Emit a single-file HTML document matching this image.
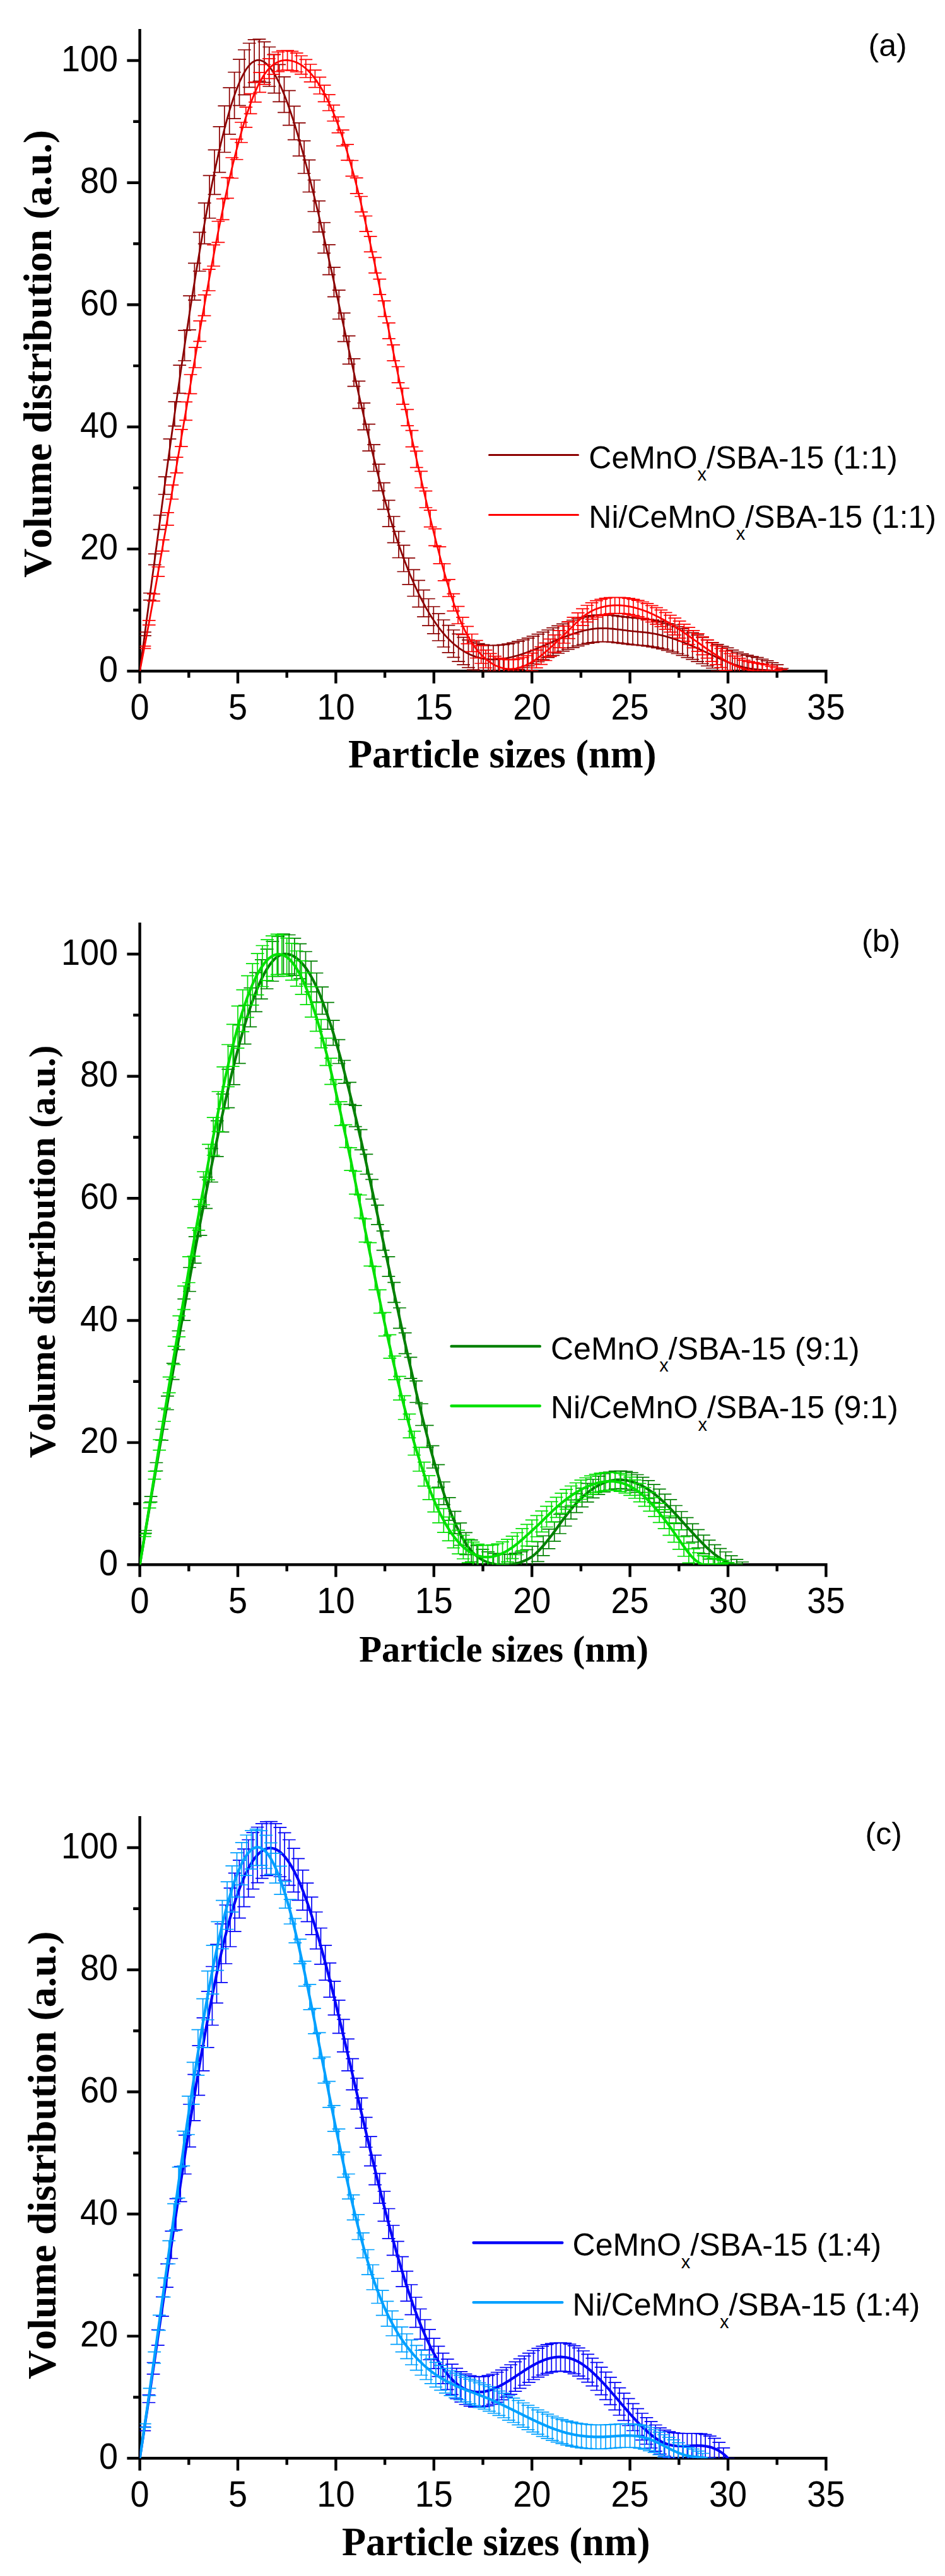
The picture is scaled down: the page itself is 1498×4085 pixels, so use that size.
<!DOCTYPE html>
<html><head><meta charset="utf-8"><title>Particle size distributions</title>
<style>html,body{margin:0;padding:0;background:#fff}svg{display:block}text{fill:#000}.tk{font-family:"Liberation Sans",Arial,sans-serif;font-size:54px}.lg{font-family:"Liberation Sans",Arial,sans-serif;font-size:50px}.ti{font-family:"Liberation Serif","Times New Roman",serif;font-weight:bold;font-kerning:none}</style></head><body>
<svg width="1498" height="4085" viewBox="0 0 1498 4085">
<rect width="1498" height="4085" fill="#fff"/>
<g>
<path d="M221.6 45.9 V1066.5 M219.4 1064.3 H1311.6 M221.6 1064.3 h-20.2 M221.6 967.5 h-10.5 M221.6 870.6 h-20.2 M221.6 773.8 h-10.5 M221.6 677 h-20.2 M221.6 580.1 h-10.5 M221.6 483.3 h-20.2 M221.6 386.5 h-10.5 M221.6 289.7 h-20.2 M221.6 192.8 h-10.5 M221.6 96 h-20.2 M221.6 1064.3 v19.5 M299.3 1064.3 v10.5 M377 1064.3 v19.5 M454.7 1064.3 v10.5 M532.4 1064.3 v19.5 M610.1 1064.3 v10.5 M687.8 1064.3 v19.5 M765.5 1064.3 v10.5 M843.2 1064.3 v19.5 M920.9 1064.3 v10.5 M998.6 1064.3 v19.5 M1076.3 1064.3 v10.5 M1154 1064.3 v19.5 M1231.7 1064.3 v10.5 M1309.4 1064.3 v19.5" fill="none" stroke="#000" stroke-width="4.4"/>
<clipPath id="cp0"><rect x="221.6" y="37.9" width="1270" height="1026.4"/></clipPath>
<g clip-path="url(#cp0)" fill="none">
<path d="M229.5 1002.4V1008.2M219.1 1002.4h20.8M219.1 1008.2h20.8M237.4 940.5V951.7M227 940.5h20.8M227 951.7h20.8M245.3 878.4V895.7M234.9 878.4h20.8M234.9 895.7h20.8M253.2 817V839.6M242.8 817h20.8M242.8 839.6h20.8M261.1 756.1V784M250.7 756.1h20.8M250.7 784h20.8M269 696.1V729.3M258.6 696.1h20.8M258.6 729.3h20.8M276.9 637.1V675.7M266.5 637.1h20.8M266.5 675.7h20.8M284.7 579.1V623.7M274.3 579.1h20.8M274.3 623.7h20.8M292.6 523.8V572M282.2 523.8h20.8M282.2 572h20.8M300.5 469.2V523.2M290.1 469.2h20.8M290.1 523.2h20.8M308.4 417.3V475.8M298 417.3h20.8M298 475.8h20.8M316.3 368.3V430M305.9 368.3h20.8M305.9 430h20.8M324.2 321.9V386.6M313.8 321.9h20.8M313.8 386.6h20.8M332.1 278.3V346M321.7 278.3h20.8M321.7 346h20.8M340 237.6V308.4M329.6 237.6h20.8M329.6 308.4h20.8M347.9 200.9V273.3M337.5 200.9h20.8M337.5 273.3h20.8M355.8 167.9V241.5M345.4 167.9h20.8M345.4 241.5h20.8M363.7 139.2V212.8M353.3 139.2h20.8M353.3 212.8h20.8M371.6 114.5V188.1M361.2 114.5h20.8M361.2 188.1h20.8M379.5 94.2V167.3M369.1 94.2h20.8M369.1 167.3h20.8M387.4 79V150.4M377 79h20.8M377 150.4h20.8M395.2 68.5V138.3M384.8 68.5h20.8M384.8 138.3h20.8M403.1 62.8V131M392.7 62.8h20.8M392.7 131h20.8M411 62.1V128.6M400.6 62.1h20.8M400.6 128.6h20.8M418.9 66.3V130.6M408.5 66.3h20.8M408.5 130.6h20.8M426.8 74.5V137M416.4 74.5h20.8M416.4 137h20.8M434.7 86.4V147.6M424.3 86.4h20.8M424.3 147.6h20.8M442.6 102.4V161.4M432.2 102.4h20.8M432.2 161.4h20.8M450.5 121.8V178.3M440.1 121.8h20.8M440.1 178.3h20.8M458.4 143.7V198.6M448 143.7h20.8M448 198.6h20.8M466.3 168.3V221.7M455.9 168.3h20.8M455.9 221.7h20.8M474.2 194.8V247.3M463.8 194.8h20.8M463.8 247.3h20.8M482.1 223.3V275M471.7 223.3h20.8M471.7 275h20.8M490 253.6V304.5M479.6 253.6h20.8M479.6 304.5h20.8M497.9 285.5V335.5M487.5 285.5h20.8M487.5 335.5h20.8M505.7 318.7V367.9M495.3 318.7h20.8M495.3 367.9h20.8M513.6 353V401.3M503.2 353h20.8M503.2 401.3h20.8M521.5 388.1V435.7M511.1 388.1h20.8M511.1 435.7h20.8M529.4 423.9V470.6M519 423.9h20.8M519 470.6h20.8M537.3 460.1V506M526.9 460.1h20.8M526.9 506h20.8M545.2 496.4V541.7M534.8 496.4h20.8M534.8 541.7h20.8M553.1 532.7V577.3M542.7 532.7h20.8M542.7 577.3h20.8M561 568.8V612.7M550.6 568.8h20.8M550.6 612.7h20.8M568.9 604.3V647.6M558.5 604.3h20.8M558.5 647.6h20.8M576.8 639.1V681.7M566.4 639.1h20.8M566.4 681.7h20.8M584.7 672.7V715.2M574.3 672.7h20.8M574.3 715.2h20.8M592.6 705.2V747.5M582.2 705.2h20.8M582.2 747.5h20.8M600.5 736.2V778.4M590.1 736.2h20.8M590.1 778.4h20.8M608.4 765.7V807.7M598 765.7h20.8M598 807.7h20.8M616.2 793.3V835.1M605.8 793.3h20.8M605.8 835.1h20.8M624.1 819V860.6M613.7 819h20.8M613.7 860.6h20.8M632 842.7V884.5M621.6 842.7h20.8M621.6 884.5h20.8M639.9 864.6V906.5M629.5 864.6h20.8M629.5 906.5h20.8M647.8 884.8V926.8M637.4 884.8h20.8M637.4 926.8h20.8M655.7 903.3V945.5M645.3 903.3h20.8M645.3 945.5h20.8M663.6 920.3V962.6M653.2 920.3h20.8M653.2 962.6h20.8M671.5 935.6V978.1M661.1 935.6h20.8M661.1 978.1h20.8M679.4 949.5V992.1M669 949.5h20.8M669 992.1h20.8M687.3 962V1004.8M676.9 962h20.8M676.9 1004.8h20.8M695.2 973.2V1016M684.8 973.2h20.8M684.8 1016h20.8M703.1 983V1026M692.7 983h20.8M692.7 1026h20.8M711 991.6V1034.8M700.6 991.6h20.8M700.6 1034.8h20.8M718.9 999V1042.3M708.5 999h20.8M708.5 1042.3h20.8M726.7 1005.3V1048.8M716.3 1005.3h20.8M716.3 1048.8h20.8M734.6 1010.6V1054.2M724.2 1010.6h20.8M724.2 1054.2h20.8M742.5 1014.9V1058.6M732.1 1014.9h20.8M732.1 1058.6h20.8M750.4 1018.2V1062.1M740 1018.2h20.8M740 1062.1h20.8M758.3 1020.7V1064.7M747.9 1020.7h20.8M747.9 1064.7h20.8M766.2 1022.4V1066.5M755.8 1022.4h20.8M755.8 1066.5h20.8M774.1 1023.3V1067.6M763.7 1023.3h20.8M763.7 1067.6h20.8M782 1023.6V1068M771.6 1023.6h20.8M771.6 1068h20.8M789.9 1023.2V1067.7M779.5 1023.2h20.8M779.5 1067.7h20.8M797.8 1022.4V1066.8M787.4 1022.4h20.8M787.4 1066.8h20.8M805.7 1021.1V1065.4M795.3 1021.1h20.8M795.3 1065.4h20.8M813.6 1019.3V1063.6M803.2 1019.3h20.8M803.2 1063.6h20.8M821.5 1017.1V1061.3M811.1 1017.1h20.8M811.1 1061.3h20.8M829.4 1014.6V1058.7M819 1014.6h20.8M819 1058.7h20.8M837.2 1011.8V1055.9M826.8 1011.8h20.8M826.8 1055.9h20.8M845.1 1008.8V1052.8M834.7 1008.8h20.8M834.7 1052.8h20.8M853 1005.6V1049.5M842.6 1005.6h20.8M842.6 1049.5h20.8M860.9 1002.4V1046.2M850.5 1002.4h20.8M850.5 1046.2h20.8M868.8 999V1042.7M858.4 999h20.8M858.4 1042.7h20.8M876.7 995.7V1039.3M866.3 995.7h20.8M866.3 1039.3h20.8M884.6 992.4V1036M874.2 992.4h20.8M874.2 1036h20.8M892.5 989.3V1032.7M882.1 989.3h20.8M882.1 1032.7h20.8M900.4 986.3V1029.7M890 986.3h20.8M890 1029.7h20.8M908.3 983.5V1026.8M897.9 983.5h20.8M897.9 1026.8h20.8M916.2 981V1024.3M905.8 981h20.8M905.8 1024.3h20.8M924.1 978.9V1022M913.7 978.9h20.8M913.7 1022h20.8M932 977.2V1020.2M921.6 977.2h20.8M921.6 1020.2h20.8M939.9 975.9V1018.9M929.5 975.9h20.8M929.5 1018.9h20.8M947.7 975.1V1018M937.3 975.1h20.8M937.3 1018h20.8M955.6 974.9V1017.7M945.2 974.9h20.8M945.2 1017.7h20.8M963.5 975.2V1017.9M953.1 975.2h20.8M953.1 1017.9h20.8M971.4 975.8V1018.5M961 975.8h20.8M961 1018.5h20.8M979.3 976.8V1019.4M968.9 976.8h20.8M968.9 1019.4h20.8M987.2 977.8V1020.4M976.8 977.8h20.8M976.8 1020.4h20.8M995.1 978.8V1021.4M984.7 978.8h20.8M984.7 1021.4h20.8M1003 979.7V1022.3M992.6 979.7h20.8M992.6 1022.3h20.8M1010.9 980.4V1023M1000.5 980.4h20.8M1000.5 1023h20.8M1018.8 981.1V1023.7M1008.4 981.1h20.8M1008.4 1023.7h20.8M1026.7 982V1024.6M1016.3 982h20.8M1016.3 1024.6h20.8M1034.6 983.2V1025.8M1024.2 983.2h20.8M1024.2 1025.8h20.8M1042.5 984.8V1027.4M1032.1 984.8h20.8M1032.1 1027.4h20.8M1050.4 986.6V1029.2M1040 986.6h20.8M1040 1029.2h20.8M1058.2 988.8V1031.4M1047.8 988.8h20.8M1047.8 1031.4h20.8M1066.1 991.2V1033.8M1055.7 991.2h20.8M1055.7 1033.8h20.8M1074 993.9V1036.5M1063.6 993.9h20.8M1063.6 1036.5h20.8M1081.9 996.8V1039.4M1071.5 996.8h20.8M1071.5 1039.4h20.8M1089.8 1000V1042.6M1079.4 1000h20.8M1079.4 1042.6h20.8M1097.7 1003.4V1045.7M1087.3 1003.4h20.8M1087.3 1045.7h20.8M1105.6 1007.2V1049.1M1095.2 1007.2h20.8M1095.2 1049.1h20.8M1113.5 1011V1052.5M1103.1 1011h20.8M1103.1 1052.5h20.8M1121.4 1014.9V1056M1111 1014.9h20.8M1111 1056h20.8M1129.3 1018.8V1059.5M1118.9 1018.8h20.8M1118.9 1059.5h20.8M1137.2 1021.9V1063.8M1126.8 1021.9h20.8M1126.8 1063.8h20.8M1145.1 1024.8V1067.9M1134.7 1024.8h20.8M1134.7 1067.9h20.8M1153 1027.4V1071.8M1142.6 1027.4h20.8M1142.6 1071.8h20.8M1160.9 1030.9V1074.4M1150.5 1030.9h20.8M1150.5 1074.4h20.8M1168.7 1034.1V1076.5M1158.3 1034.1h20.8M1158.3 1076.5h20.8M1176.6 1036.9V1078.2M1166.2 1036.9h20.8M1166.2 1078.2h20.8M1184.5 1039.2V1079.3M1174.1 1039.2h20.8M1174.1 1079.3h20.8M1192.4 1041.1V1080.1M1182 1041.1h20.8M1182 1080.1h20.8M1200.3 1042.7V1080.5M1189.9 1042.7h20.8M1189.9 1080.5h20.8M1208.2 1045.3V1079.3M1197.8 1045.3h20.8M1197.8 1079.3h20.8M1216.1 1047.8V1077.8M1205.7 1047.8h20.8M1205.7 1077.8h20.8M1224 1050.9V1075.6M1213.6 1050.9h20.8M1213.6 1075.6h20.8M1231.9 1054.2V1073.3M1221.5 1054.2h20.8M1221.5 1073.3h20.8M1239.8 1060V1068.6M1229.4 1060h20.8M1229.4 1068.6h20.8" stroke="#8b0000" stroke-width="1.7"/>
<path d="M221.6 1064.3 L224.2 1045.3 L226.7 1026.2 L229.3 1007.1 L231.8 987.9 L234.4 968.8 L236.9 949.7 L239.5 930.6 L242 911.4 L244.6 892.4 L247.1 873.3 L249.7 854.3 L252.2 835.3 L254.8 816.4 L257.3 797.6 L259.9 778.8 L262.4 760.1 L265 741.5 L267.5 723 L270.1 704.6 L272.6 686.3 L275.2 668.2 L277.7 650.1 L280.3 632.2 L282.8 614.5 L285.4 596.9 L287.9 579.5 L290.5 562.2 L293.1 545.1 L295.6 528.3 L298.2 511.6 L300.7 495.1 L303.3 478.8 L305.8 462.7 L308.4 446.9 L310.9 431.3 L313.5 416 L316 400.9 L318.6 386.1 L321.1 371.5 L323.7 357.2 L326.2 343.2 L328.8 329.5 L331.3 316.1 L333.9 303 L336.4 290.3 L339 277.8 L341.5 265.7 L344.1 254 L346.6 242.6 L349.2 231.5 L351.7 220.8 L354.3 210.5 L356.8 200.6 L359.4 191.1 L362 181.9 L364.5 173.2 L367.1 164.9 L369.6 157 L372.2 149.6 L374.7 142.6 L377.3 136 L379.8 130 L382.4 124.3 L384.9 119.2 L387.5 114.5 L390 110.3 L392.6 106.7 L395.1 103.5 L397.7 100.8 L400.2 98.7 L402.8 97.1 L405.3 96 L407.9 95.4 L410.4 95.3 L413 95.7 L415.5 96.6 L418.1 97.9 L420.6 99.7 L423.2 101.9 L425.7 104.5 L428.3 107.6 L430.9 111 L433.4 114.9 L436 119.1 L438.5 123.7 L441.1 128.7 L443.6 134 L446.2 139.7 L448.7 145.7 L451.3 152 L453.8 158.6 L456.4 165.5 L458.9 172.7 L461.5 180.2 L464 187.9 L466.6 195.9 L469.1 204.1 L471.7 212.6 L474.2 221.3 L476.8 230.2 L479.3 239.2 L481.9 248.5 L484.4 258 L487 267.6 L489.5 277.5 L492.1 287.4 L494.6 297.6 L497.2 307.9 L499.7 318.3 L502.3 328.9 L504.9 339.5 L507.4 350.3 L510 361.2 L512.5 372.3 L515.1 383.4 L517.6 394.6 L520.2 405.8 L522.7 417.2 L525.3 428.6 L527.8 440.1 L530.4 451.6 L532.9 463.1 L535.5 474.7 L538 486.3 L540.6 497.9 L543.1 509.6 L545.7 521.2 L548.2 532.9 L550.8 544.5 L553.3 556.1 L555.9 567.7 L558.4 579.2 L561 590.7 L563.5 602.2 L566.1 613.5 L568.6 624.9 L571.2 636.1 L573.8 647.3 L576.3 658.4 L578.9 669.3 L581.4 680.2 L584 691 L586.5 701.6 L589.1 712.1 L591.6 722.5 L594.2 732.7 L596.7 742.8 L599.3 752.8 L601.8 762.5 L604.4 772.1 L606.9 781.5 L609.5 790.7 L612 799.7 L614.6 808.6 L617.1 817.2 L619.7 825.6 L622.2 833.8 L624.8 841.8 L627.3 849.7 L629.9 857.3 L632.4 864.8 L635 872 L637.5 879.1 L640.1 886 L642.7 892.8 L645.2 899.3 L647.8 905.7 L650.3 911.9 L652.9 917.9 L655.4 923.7 L658 929.4 L660.5 935 L663.1 940.3 L665.6 945.5 L668.2 950.5 L670.7 955.4 L673.3 960.1 L675.8 964.7 L678.4 969.1 L680.9 973.4 L683.5 977.5 L686 981.5 L688.6 985.3 L691.1 989 L693.7 992.6 L696.2 996 L698.8 999.3 L701.3 1002.5 L703.9 1005.5 L706.4 1008.4 L709 1011.1 L711.6 1013.8 L714.1 1016.3 L716.7 1018.7 L719.2 1021 L721.8 1023.2 L724.3 1025.2 L726.9 1027.1 L729.4 1029 L732 1030.7 L734.5 1032.3 L737.1 1033.8 L739.6 1035.3 L742.2 1036.6 L744.7 1037.8 L747.3 1038.9 L749.8 1039.9 L752.4 1040.9 L754.9 1041.7 L757.5 1042.5 L760 1043.2 L762.6 1043.8 L765.1 1044.3 L767.7 1044.7 L770.2 1045.1 L772.8 1045.3 L775.3 1045.6 L777.9 1045.7 L780.5 1045.8 L783 1045.8 L785.6 1045.7 L788.1 1045.6 L790.7 1045.4 L793.2 1045.2 L795.8 1044.9 L798.3 1044.5 L800.9 1044.1 L803.4 1043.7 L806 1043.2 L808.5 1042.6 L811.1 1042 L813.6 1041.4 L816.2 1040.7 L818.7 1040 L821.3 1039.3 L823.8 1038.5 L826.4 1037.7 L828.9 1036.8 L831.5 1035.9 L834 1035 L836.6 1034.1 L839.1 1033.1 L841.7 1032.2 L844.2 1031.2 L846.8 1030.1 L849.4 1029.1 L851.9 1028.1 L854.5 1027 L857 1025.9 L859.6 1024.8 L862.1 1023.8 L864.7 1022.7 L867.2 1021.6 L869.8 1020.5 L872.3 1019.4 L874.9 1018.3 L877.4 1017.2 L880 1016.1 L882.5 1015.1 L885.1 1014 L887.6 1013 L890.2 1011.9 L892.7 1010.9 L895.3 1009.9 L897.8 1008.9 L900.4 1008 L902.9 1007 L905.5 1006.1 L908 1005.2 L910.6 1004.4 L913.1 1003.6 L915.7 1002.8 L918.3 1002 L920.8 1001.3 L923.4 1000.6 L925.9 1000 L928.5 999.4 L931 998.9 L933.6 998.4 L936.1 997.9 L938.7 997.5 L941.2 997.2 L943.8 996.9 L946.3 996.7 L948.9 996.5 L951.4 996.4 L954 996.3 L956.5 996.3 L959.1 996.3 L961.6 996.4 L964.2 996.6 L966.7 996.8 L969.3 997 L971.8 997.2 L974.4 997.5 L976.9 997.8 L979.5 998.1 L982 998.4 L984.6 998.7 L987.1 999.1 L989.7 999.4 L992.3 999.7 L994.8 1000.1 L997.4 1000.4 L999.9 1000.7 L1002.5 1000.9 L1005 1001.2 L1007.6 1001.4 L1010.1 1001.6 L1012.7 1001.9 L1015.2 1002.1 L1017.8 1002.3 L1020.3 1002.6 L1022.9 1002.9 L1025.4 1003.2 L1028 1003.5 L1030.5 1003.9 L1033.1 1004.3 L1035.6 1004.7 L1038.2 1005.2 L1040.7 1005.7 L1043.3 1006.2 L1045.8 1006.8 L1048.4 1007.4 L1050.9 1008.1 L1053.5 1008.7 L1056 1009.4 L1058.6 1010.2 L1061.2 1010.9 L1063.7 1011.7 L1066.3 1012.5 L1068.8 1013.4 L1071.4 1014.3 L1073.9 1015.2 L1076.5 1016.1 L1079 1017 L1081.6 1018 L1084.1 1019 L1086.7 1020 L1089.2 1021 L1091.8 1022.1 L1094.3 1023.1 L1096.9 1024.2 L1099.4 1025.3 L1102 1026.5 L1104.5 1027.6 L1107.1 1028.8 L1109.6 1030 L1112.2 1031.1 L1114.7 1032.3 L1117.3 1033.5 L1119.8 1034.7 L1122.4 1035.9 L1124.9 1037.1 L1127.5 1038.4 L1130.1 1039.5 L1132.6 1040.7 L1135.2 1041.9 L1137.7 1043.1 L1140.3 1044.2 L1142.8 1045.3 L1145.4 1046.5 L1147.9 1047.5 L1150.5 1048.6 L1153 1049.6 L1155.6 1050.7 L1158.1 1051.6 L1160.7 1052.6 L1163.2 1053.5 L1165.8 1054.3 L1168.3 1055.2 L1170.9 1055.9 L1173.4 1056.7 L1176 1057.4 L1178.5 1058 L1181.1 1058.6 L1183.6 1059.1 L1186.2 1059.6 L1188.7 1060.1 L1191.3 1060.5 L1193.8 1060.8 L1196.4 1061.1 L1199 1061.4 L1201.5 1061.7 L1204.1 1061.9 L1206.6 1062.2 L1209.2 1062.4 L1211.7 1062.5 L1214.3 1062.7 L1216.8 1062.9 L1219.4 1063 L1221.9 1063.2 L1224.5 1063.3 L1227 1063.4 L1229.6 1063.6 L1232.1 1063.8 L1234.7 1063.9 L1237.2 1064.1 L1239.8 1064.3" stroke="#8b0000" stroke-width="2.8" stroke-linejoin="round"/>
<path d="M228.9 1024.7V1028.3M218.5 1024.7h20.8M218.5 1028.3h20.8M236.2 983.8V991.2M225.8 983.8h20.8M225.8 991.2h20.8M243.5 941.8V953.1M233.1 941.8h20.8M233.1 953.1h20.8M250.8 899V914.2M240.4 899h20.8M240.4 914.2h20.8M258.2 856.2V873.8M247.8 856.2h20.8M247.8 873.8h20.8M265.5 812.9V832.9M255.1 812.9h20.8M255.1 832.9h20.8M272.8 769.2V791.5M262.4 769.2h20.8M262.4 791.5h20.8M280.1 725.2V749.9M269.7 725.2h20.8M269.7 749.9h20.8M287.4 681.1V708.2M277 681.1h20.8M277 708.2h20.8M294.7 637.4V666.3M284.3 637.4h20.8M284.3 666.3h20.8M302 594V624.4M291.6 594h20.8M291.6 624.4h20.8M309.3 550.9V583M298.9 550.9h20.8M298.9 583h20.8M316.7 508.9V541.4M306.3 508.9h20.8M306.3 541.4h20.8M324 467.7V500.6M313.6 467.7h20.8M313.6 500.6h20.8M331.3 427.1V461M320.9 427.1h20.8M320.9 461h20.8M338.6 388.4V422M328.2 388.4h20.8M328.2 422h20.8M345.9 351V384.4M335.5 351h20.8M335.5 384.4h20.8M353.2 315.4V348.4M342.8 315.4h20.8M342.8 348.4h20.8M360.5 281.6V314.4M350.1 281.6h20.8M350.1 314.4h20.8M367.8 250V282.5M357.4 250h20.8M357.4 282.5h20.8M375.1 220.7V253M364.7 220.7h20.8M364.7 253h20.8M382.5 194V226M372.1 194h20.8M372.1 226h20.8M389.8 169.9V201.8M379.4 169.9h20.8M379.4 201.8h20.8M397.1 148.6V180.4M386.7 148.6h20.8M386.7 180.4h20.8M404.4 130.2V161.9M394 130.2h20.8M394 161.9h20.8M411.7 114.8V146.4M401.3 114.8h20.8M401.3 146.4h20.8M419 102.5V133.9M408.6 102.5h20.8M408.6 133.9h20.8M426.3 93.2V124.6M415.9 93.2h20.8M415.9 124.6h20.8M433.6 86.6V117.9M423.2 86.6h20.8M423.2 117.9h20.8M440.9 82.5V113.6M430.5 82.5h20.8M430.5 113.6h20.8M448.3 80.4V111.5M437.9 80.4h20.8M437.9 111.5h20.8M455.6 80V111M445.2 80h20.8M445.2 111h20.8M462.9 81.4V111.8M452.5 81.4h20.8M452.5 111.8h20.8M470.2 84.2V114M459.8 84.2h20.8M459.8 114h20.8M477.5 88.5V117.7M467.1 88.5h20.8M467.1 117.7h20.8M484.8 94.4V123M474.4 94.4h20.8M474.4 123h20.8M492.1 102V129.9M481.7 102h20.8M481.7 129.9h20.8M499.4 111.2V138.6M489 111.2h20.8M489 138.6h20.8M506.8 122.3V149M496.4 122.3h20.8M496.4 149h20.8M514.1 135.2V161.3M503.7 135.2h20.8M503.7 161.3h20.8M521.4 150.1V175.5M511 150.1h20.8M511 175.5h20.8M528.7 166.7V192M518.3 166.7h20.8M518.3 192h20.8M536 185.4V210.6M525.6 185.4h20.8M525.6 210.6h20.8M543.3 206.2V231.3M532.9 206.2h20.8M532.9 231.3h20.8M550.6 229.2V254.2M540.2 229.2h20.8M540.2 254.2h20.8M557.9 254.5V279.4M547.5 254.5h20.8M547.5 279.4h20.8M565.2 282.1V306.9M554.8 282.1h20.8M554.8 306.9h20.8M572.6 311.5V336.2M562.2 311.5h20.8M562.2 336.2h20.8M579.9 342.5V367.1M569.5 342.5h20.8M569.5 367.1h20.8M587.2 374.9V399.4M576.8 374.9h20.8M576.8 399.4h20.8M594.5 408.4V432.8M584.1 408.4h20.8M584.1 432.8h20.8M601.8 442.6V467.2M591.4 442.6h20.8M591.4 467.2h20.8M609.1 477.2V502M598.7 477.2h20.8M598.7 502h20.8M616.4 512.1V537.1M606 512.1h20.8M606 537.1h20.8M623.7 546.9V572.1M613.3 546.9h20.8M613.3 572.1h20.8M631.1 581.5V606.9M620.7 581.5h20.8M620.7 606.9h20.8M638.4 615.7V641.2M628 615.7h20.8M628 641.2h20.8M645.7 649.4V675.2M635.3 649.4h20.8M635.3 675.2h20.8M653 682.6V708.6M642.6 682.6h20.8M642.6 708.6h20.8M660.3 715.3V741.4M649.9 715.3h20.8M649.9 741.4h20.8M667.6 747.3V773.5M657.2 747.3h20.8M657.2 773.5h20.8M674.9 778.6V805M664.5 778.6h20.8M664.5 805h20.8M682.2 809.1V835.6M671.8 809.1h20.8M671.8 835.6h20.8M689.5 838.7V865.4M679.1 838.7h20.8M679.1 865.4h20.8M696.9 867.1V893.9M686.5 867.1h20.8M686.5 893.9h20.8M704.2 894V920.9M693.8 894h20.8M693.8 920.9h20.8M711.5 918.9V946M701.1 918.9h20.8M701.1 946h20.8M718.8 941.6V968.8M708.4 941.6h20.8M708.4 968.8h20.8M726.1 961.6V989M715.7 961.6h20.8M715.7 989h20.8M733.4 978.8V1006.3M723 978.8h20.8M723 1006.3h20.8M740.7 993.3V1020.9M730.3 993.3h20.8M730.3 1020.9h20.8M748 1005.5V1033.3M737.6 1005.5h20.8M737.6 1033.3h20.8M755.3 1015.6V1043.5M744.9 1015.6h20.8M744.9 1043.5h20.8M762.7 1023.9V1052M752.3 1023.9h20.8M752.3 1052h20.8M770 1030.8V1059M759.6 1030.8h20.8M759.6 1059h20.8M777.3 1036.3V1064.7M766.9 1036.3h20.8M766.9 1064.7h20.8M784.6 1040.6V1069.1M774.2 1040.6h20.8M774.2 1069.1h20.8M791.9 1043.7V1072.4M781.5 1043.7h20.8M781.5 1072.4h20.8M799.2 1045.6V1074.4M788.8 1045.6h20.8M788.8 1074.4h20.8M806.5 1046.4V1075.3M796.1 1046.4h20.8M796.1 1075.3h20.8M813.8 1046.1V1075.1M803.4 1046.1h20.8M803.4 1075.1h20.8M821.2 1044.9V1073.7M810.8 1044.9h20.8M810.8 1073.7h20.8M828.5 1042.7V1071.4M818.1 1042.7h20.8M818.1 1071.4h20.8M835.8 1039.6V1068.1M825.4 1039.6h20.8M825.4 1068.1h20.8M843.1 1035.6V1063.9M832.7 1035.6h20.8M832.7 1063.9h20.8M850.4 1030.9V1059.1M840 1030.9h20.8M840 1059.1h20.8M857.7 1025.6V1053.6M847.3 1025.6h20.8M847.3 1053.6h20.8M865 1019.7V1047.5M854.6 1019.7h20.8M854.6 1047.5h20.8M872.3 1013.4V1041.1M861.9 1013.4h20.8M861.9 1041.1h20.8M879.6 1006.8V1034.3M869.2 1006.8h20.8M869.2 1034.3h20.8M887 999.9V1027.2M876.6 999.9h20.8M876.6 1027.2h20.8M894.3 992.9V1020M883.9 992.9h20.8M883.9 1020h20.8M901.6 985.8V1012.7M891.2 985.8h20.8M891.2 1012.7h20.8M908.9 978.8V1005.5M898.5 978.8h20.8M898.5 1005.5h20.8M916.2 971.9V998.5M905.8 971.9h20.8M905.8 998.5h20.8M923.5 965.4V991.8M913.1 965.4h20.8M913.1 991.8h20.8M930.8 960V986.3M920.4 960h20.8M920.4 986.3h20.8M938.1 955.8V981.9M927.7 955.8h20.8M927.7 981.9h20.8M945.5 952.7V978.6M935.1 952.7h20.8M935.1 978.6h20.8M952.8 950.3V976.1M942.4 950.3h20.8M942.4 976.1h20.8M960.1 948.7V974.3M949.7 948.7h20.8M949.7 974.3h20.8M967.4 947.7V973.1M957 947.7h20.8M957 973.1h20.8M974.7 947.3V972.5M964.3 947.3h20.8M964.3 972.5h20.8M982 947.3V972.6M971.6 947.3h20.8M971.6 972.6h20.8M989.3 947.8V973.2M978.9 947.8h20.8M978.9 973.2h20.8M996.6 948.8V974.3M986.2 948.8h20.8M986.2 974.3h20.8M1003.9 950.3V975.9M993.5 950.3h20.8M993.5 975.9h20.8M1011.3 952.2V977.9M1000.9 952.2h20.8M1000.9 977.9h20.8M1018.6 954.5V980.4M1008.2 954.5h20.8M1008.2 980.4h20.8M1025.9 957.2V983.2M1015.5 957.2h20.8M1015.5 983.2h20.8M1033.2 960.3V986.4M1022.8 960.3h20.8M1022.8 986.4h20.8M1040.5 963.7V989.9M1030.1 963.7h20.8M1030.1 989.9h20.8M1047.8 967.4V993.7M1037.4 967.4h20.8M1037.4 993.7h20.8M1055.1 971.4V997.9M1044.7 971.4h20.8M1044.7 997.9h20.8M1062.4 975.7V1002.3M1052 975.7h20.8M1052 1002.3h20.8M1069.7 980.2V1006.9M1059.3 980.2h20.8M1059.3 1006.9h20.8M1077.1 984.9V1011.8M1066.7 984.9h20.8M1066.7 1011.8h20.8M1084.4 989.8V1016.8M1074 989.8h20.8M1074 1016.8h20.8M1091.7 994.9V1022M1081.3 994.9h20.8M1081.3 1022h20.8M1099 999.8V1027.4M1088.6 999.8h20.8M1088.6 1027.4h20.8M1106.3 1004.8V1032.8M1095.9 1004.8h20.8M1095.9 1032.8h20.8M1113.6 1009.8V1038.3M1103.2 1009.8h20.8M1103.2 1038.3h20.8M1120.9 1014.7V1043.6M1110.5 1014.7h20.8M1110.5 1043.6h20.8M1128.2 1019.5V1048.8M1117.8 1019.5h20.8M1117.8 1048.8h20.8M1135.6 1024V1053.9M1125.2 1024h20.8M1125.2 1053.9h20.8M1142.9 1028.4V1058.7M1132.5 1028.4h20.8M1132.5 1058.7h20.8M1150.2 1032.4V1063.2M1139.8 1032.4h20.8M1139.8 1063.2h20.8M1157.5 1036.5V1067M1147.1 1036.5h20.8M1147.1 1067h20.8M1164.8 1040.4V1070M1154.4 1040.4h20.8M1154.4 1070h20.8M1172.1 1043.9V1072.6M1161.7 1043.9h20.8M1161.7 1072.6h20.8M1179.4 1046.8V1074.6M1169 1046.8h20.8M1169 1074.6h20.8M1186.7 1049.1V1076M1176.3 1049.1h20.8M1176.3 1076h20.8M1194 1050.7V1076.7M1183.6 1050.7h20.8M1183.6 1076.7h20.8M1201.4 1051.8V1076.7M1191 1051.8h20.8M1191 1076.7h20.8M1208.7 1053.2V1075.4M1198.3 1053.2h20.8M1198.3 1075.4h20.8M1216 1054.5V1074M1205.6 1054.5h20.8M1205.6 1074h20.8M1223.3 1056.6V1071.6M1212.9 1056.6h20.8M1212.9 1071.6h20.8M1230.6 1059V1069.1M1220.2 1059h20.8M1220.2 1069.1h20.8M1237.9 1061.9V1066.7M1227.5 1061.9h20.8M1227.5 1066.7h20.8" stroke="#ff0000" stroke-width="1.7"/>
<path d="M221.6 1064.3 L224.1 1051.3 L226.7 1038.1 L229.2 1024.7 L231.8 1011.3 L234.3 997.7 L236.9 983.9 L239.4 970.1 L242 956.1 L244.5 942 L247.1 927.8 L249.6 913.5 L252.2 899.2 L254.7 884.7 L257.3 870.2 L259.8 855.6 L262.4 840.9 L264.9 826.2 L267.4 811.4 L270 796.6 L272.5 781.8 L275.1 766.9 L277.6 752 L280.2 737 L282.7 722.1 L285.3 707.2 L287.8 692.2 L290.4 677.3 L292.9 662.3 L295.5 647.4 L298 632.6 L300.6 617.7 L303.1 602.9 L305.7 588.2 L308.2 573.5 L310.8 558.8 L313.3 544.2 L315.8 529.7 L318.4 515.3 L320.9 501 L323.5 486.8 L326 472.7 L328.6 458.7 L331.1 444.8 L333.7 431.1 L336.2 417.6 L338.8 404.2 L341.3 391 L343.9 378 L346.4 365.1 L349 352.5 L351.5 340.1 L354.1 327.9 L356.6 315.9 L359.1 304.2 L361.7 292.8 L364.2 281.6 L366.8 270.6 L369.3 260 L371.9 249.7 L374.4 239.6 L377 229.9 L379.5 220.5 L382.1 211.4 L384.6 202.6 L387.2 194.2 L389.7 186 L392.3 178.3 L394.8 170.9 L397.4 163.8 L399.9 157 L402.4 150.7 L405 144.7 L407.5 139 L410.1 133.7 L412.6 128.8 L415.2 124.3 L417.7 120.1 L420.3 116.4 L422.8 113 L425.4 109.9 L427.9 107.2 L430.5 104.8 L433 102.7 L435.6 100.9 L438.1 99.4 L440.7 98.2 L443.2 97.2 L445.7 96.4 L448.3 95.9 L450.8 95.6 L453.4 95.5 L455.9 95.5 L458.5 95.8 L461 96.2 L463.6 96.8 L466.1 97.5 L468.7 98.5 L471.2 99.6 L473.8 100.9 L476.3 102.4 L478.9 104 L481.4 105.9 L484 108 L486.5 110.2 L489.1 112.7 L491.6 115.4 L494.1 118.2 L496.7 121.3 L499.2 124.6 L501.8 128.1 L504.3 131.9 L506.9 135.9 L509.4 140 L512 144.5 L514.5 149.1 L517.1 154 L519.6 159.1 L522.2 164.5 L524.7 170.1 L527.3 175.9 L529.8 182.1 L532.4 188.4 L534.9 195 L537.4 201.9 L540 209 L542.5 216.4 L545.1 224.1 L547.6 232.1 L550.2 240.3 L552.7 248.8 L555.3 257.5 L557.8 266.6 L560.4 275.9 L562.9 285.5 L565.5 295.3 L568 305.4 L570.6 315.6 L573.1 326.1 L575.7 336.8 L578.2 347.6 L580.7 358.7 L583.3 369.8 L585.8 381.2 L588.4 392.7 L590.9 404.3 L593.5 416 L596 427.8 L598.6 439.7 L601.1 451.7 L603.7 463.7 L606.2 475.8 L608.8 487.9 L611.3 500.1 L613.9 512.3 L616.4 524.5 L619 536.7 L621.5 548.9 L624.1 561 L626.6 573.1 L629.1 585.2 L631.7 597.2 L634.2 609.2 L636.8 621.1 L639.3 633 L641.9 644.8 L644.4 656.6 L647 668.3 L649.5 679.9 L652.1 691.5 L654.6 703 L657.2 714.4 L659.7 725.7 L662.3 737 L664.8 748.2 L667.4 759.3 L669.9 770.3 L672.4 781.3 L675 792.1 L677.5 802.8 L680.1 813.5 L682.6 824 L685.2 834.5 L687.7 844.8 L690.3 855 L692.8 865 L695.4 874.9 L697.9 884.6 L700.5 894 L703 903.3 L705.6 912.4 L708.1 921.2 L710.7 929.7 L713.2 938 L715.7 946 L718.3 953.7 L720.8 961.1 L723.4 968.2 L725.9 974.8 L728.5 981.2 L731 987.2 L733.6 992.9 L736.1 998.2 L738.7 1003.3 L741.2 1008 L743.8 1012.5 L746.3 1016.7 L748.9 1020.6 L751.4 1024.3 L754 1027.8 L756.5 1031 L759.1 1034 L761.6 1036.9 L764.1 1039.5 L766.7 1042 L769.2 1044.3 L771.8 1046.4 L774.3 1048.4 L776.9 1050.3 L779.4 1051.9 L782 1053.5 L784.5 1054.9 L787.1 1056.1 L789.6 1057.2 L792.2 1058.1 L794.7 1058.9 L797.3 1059.6 L799.8 1060.1 L802.4 1060.5 L804.9 1060.8 L807.4 1060.9 L810 1060.9 L812.5 1060.7 L815.1 1060.5 L817.6 1060.1 L820.2 1059.6 L822.7 1058.9 L825.3 1058.1 L827.8 1057.3 L830.4 1056.3 L832.9 1055.2 L835.5 1054 L838 1052.7 L840.6 1051.3 L843.1 1049.8 L845.7 1048.2 L848.2 1046.5 L850.7 1044.7 L853.3 1042.9 L855.8 1041 L858.4 1039.1 L860.9 1037 L863.5 1034.9 L866 1032.8 L868.6 1030.6 L871.1 1028.3 L873.7 1026.1 L876.2 1023.7 L878.8 1021.4 L881.3 1019 L883.9 1016.5 L886.4 1014.1 L889 1011.6 L891.5 1009.2 L894 1006.7 L896.6 1004.2 L899.1 1001.7 L901.7 999.2 L904.2 996.7 L906.8 994.2 L909.3 991.7 L911.9 989.3 L914.4 986.8 L917 984.4 L919.5 982.1 L922.1 979.8 L924.6 977.7 L927.2 975.7 L929.7 973.9 L932.3 972.2 L934.8 970.7 L937.4 969.3 L939.9 968 L942.4 966.8 L945 965.8 L947.5 964.9 L950.1 964 L952.6 963.2 L955.2 962.6 L957.7 962 L960.3 961.4 L962.8 961 L965.4 960.6 L967.9 960.3 L970.5 960.1 L973 960 L975.6 959.9 L978.1 959.9 L980.7 959.9 L983.2 960 L985.7 960.2 L988.3 960.4 L990.8 960.7 L993.4 961.1 L995.9 961.5 L998.5 961.9 L1001 962.4 L1003.6 963 L1006.1 963.6 L1008.7 964.3 L1011.2 965.1 L1013.8 965.8 L1016.3 966.7 L1018.9 967.5 L1021.4 968.5 L1024 969.4 L1026.5 970.4 L1029 971.5 L1031.6 972.6 L1034.1 973.8 L1036.7 974.9 L1039.2 976.2 L1041.8 977.4 L1044.3 978.7 L1046.9 980.1 L1049.4 981.4 L1052 982.8 L1054.5 984.3 L1057.1 985.8 L1059.6 987.3 L1062.2 988.8 L1064.7 990.4 L1067.3 992 L1069.8 993.6 L1072.4 995.2 L1074.9 996.9 L1077.4 998.6 L1080 1000.3 L1082.5 1002 L1085.1 1003.8 L1087.6 1005.6 L1090.2 1007.3 L1092.7 1009.1 L1095.3 1011 L1097.8 1012.8 L1100.4 1014.6 L1102.9 1016.4 L1105.5 1018.2 L1108 1020 L1110.6 1021.9 L1113.1 1023.7 L1115.7 1025.5 L1118.2 1027.3 L1120.7 1029 L1123.3 1030.8 L1125.8 1032.5 L1128.4 1034.3 L1130.9 1035.9 L1133.5 1037.6 L1136 1039.3 L1138.6 1040.9 L1141.1 1042.5 L1143.7 1044 L1146.2 1045.5 L1148.8 1047 L1151.3 1048.4 L1153.9 1049.8 L1156.4 1051.2 L1159 1052.5 L1161.5 1053.7 L1164 1054.9 L1166.6 1056 L1169.1 1057.1 L1171.7 1058.1 L1174.2 1059 L1176.8 1059.9 L1179.3 1060.7 L1181.9 1061.4 L1184.4 1062 L1187 1062.6 L1189.5 1063 L1192.1 1063.4 L1194.6 1063.7 L1197.2 1064 L1199.7 1064.1 L1202.3 1064.2 L1204.8 1064.3 L1207.4 1064.3 L1209.9 1064.3 L1212.4 1064.3 L1215 1064.3 L1217.5 1064.2 L1220.1 1064.2 L1222.6 1064.1 L1225.2 1064.1 L1227.7 1064 L1230.3 1064 L1232.8 1064.1 L1235.4 1064.2 L1237.9 1064.3" stroke="#ff0000" stroke-width="2.8" stroke-linejoin="round"/>
</g>
<text class="tk" transform="translate(187 1081) scale(1 1.07)" text-anchor="end">0</text>
<text class="tk" transform="translate(187 887.3) scale(1 1.07)" text-anchor="end">20</text>
<text class="tk" transform="translate(187 693.7) scale(1 1.07)" text-anchor="end">40</text>
<text class="tk" transform="translate(187 500) scale(1 1.07)" text-anchor="end">60</text>
<text class="tk" transform="translate(187 306.4) scale(1 1.07)" text-anchor="end">80</text>
<text class="tk" transform="translate(187 112.7) scale(1 1.07)" text-anchor="end">100</text>
<text class="tk" transform="translate(221.6 1140.8) scale(1 1.07)" text-anchor="middle">0</text>
<text class="tk" transform="translate(377 1140.8) scale(1 1.07)" text-anchor="middle">5</text>
<text class="tk" transform="translate(532.4 1140.8) scale(1 1.07)" text-anchor="middle">10</text>
<text class="tk" transform="translate(687.8 1140.8) scale(1 1.07)" text-anchor="middle">15</text>
<text class="tk" transform="translate(843.2 1140.8) scale(1 1.07)" text-anchor="middle">20</text>
<text class="tk" transform="translate(998.6 1140.8) scale(1 1.07)" text-anchor="middle">25</text>
<text class="tk" transform="translate(1154 1140.8) scale(1 1.07)" text-anchor="middle">30</text>
<text class="tk" transform="translate(1309.4 1140.8) scale(1 1.07)" text-anchor="middle">35</text>
<text class="ti" font-size="63" x="552" y="1216.7" textLength="488.5" lengthAdjust="spacingAndGlyphs">Particle sizes (nm)</text>
<text class="ti" font-size="64" transform="translate(81.4 916) rotate(-90)" textLength="710" lengthAdjust="spacingAndGlyphs">Volume distribution (a.u.)</text>
<path d="M775.5 721.5H916.5" stroke="#8b0000" stroke-width="3.0" stroke-linecap="round" fill="none"/>
<text class="lg" x="933.3" y="742.6">CeMnO<tspan font-size="29" dy="19.5">x</tspan><tspan dy="-19.5">/SBA-15 (1:1)</tspan></text>
<path d="M775.5 816.6H916.5" stroke="#ff0000" stroke-width="3.0" stroke-linecap="round" fill="none"/>
<text class="lg" x="933.3" y="836.6">Ni/CeMnO<tspan font-size="29" dy="19.5">x</tspan><tspan dy="-19.5">/SBA-15 (1:1)</tspan></text>
<text class="lg" x="1376.5" y="88.5">(a)</text>
</g>
<g>
<path d="M221.6 1462.9 V2483.5 M219.4 2481.3 H1311.6 M221.6 2481.3 h-20.2 M221.6 2384.5 h-10.5 M221.6 2287.6 h-20.2 M221.6 2190.8 h-10.5 M221.6 2094 h-20.2 M221.6 1997.2 h-10.5 M221.6 1900.3 h-20.2 M221.6 1803.5 h-10.5 M221.6 1706.7 h-20.2 M221.6 1609.8 h-10.5 M221.6 1513 h-20.2 M221.6 2481.3 v19.5 M299.3 2481.3 v10.5 M377 2481.3 v19.5 M454.7 2481.3 v10.5 M532.4 2481.3 v19.5 M610.1 2481.3 v10.5 M687.8 2481.3 v19.5 M765.5 2481.3 v10.5 M843.2 2481.3 v19.5 M920.9 2481.3 v10.5 M998.6 2481.3 v19.5 M1076.3 2481.3 v10.5 M1154 2481.3 v19.5 M1231.7 2481.3 v10.5 M1309.4 2481.3 v19.5" fill="none" stroke="#000" stroke-width="4.4"/>
<clipPath id="cp1"><rect x="221.6" y="1454.9" width="1270" height="1026.4"/></clipPath>
<g clip-path="url(#cp1)" fill="none">
<path d="M230.4 2427V2431.4M220 2427h20.8M220 2431.4h20.8M239.1 2373.1V2381.8M228.7 2373.1h20.8M228.7 2381.8h20.8M247.9 2319.5V2332.6M237.5 2319.5h20.8M237.5 2332.6h20.8M256.6 2266.5V2283.8M246.2 2266.5h20.8M246.2 2283.8h20.8M265.4 2213.9V2235.5M255 2213.9h20.8M255 2235.5h20.8M274.2 2161.9V2187.6M263.8 2161.9h20.8M263.8 2187.6h20.8M282.9 2110.5V2140.4M272.5 2110.5h20.8M272.5 2140.4h20.8M291.7 2059.8V2093.8M281.3 2059.8h20.8M281.3 2093.8h20.8M300.5 2010V2048M290.1 2010h20.8M290.1 2048h20.8M309.2 1961.2V2003.1M298.8 1961.2h20.8M298.8 2003.1h20.8M318 1913.4V1959.1M307.6 1913.4h20.8M307.6 1959.1h20.8M326.7 1866.7V1916.3M316.3 1866.7h20.8M316.3 1916.3h20.8M335.5 1821.3V1874.5M325.1 1821.3h20.8M325.1 1874.5h20.8M344.3 1777.3V1834.1M333.9 1777.3h20.8M333.9 1834.1h20.8M353 1734.9V1795.1M342.6 1734.9h20.8M342.6 1795.1h20.8M361.8 1695.6V1756.7M351.4 1695.6h20.8M351.4 1756.7h20.8M370.6 1659.1V1720.2M360.2 1659.1h20.8M360.2 1720.2h20.8M379.3 1625.3V1686.3M368.9 1625.3h20.8M368.9 1686.3h20.8M388.1 1594.3V1655.7M377.7 1594.3h20.8M377.7 1655.7h20.8M396.8 1566.6V1628.3M386.4 1566.6h20.8M386.4 1628.3h20.8M405.6 1542.3V1604.4M395.2 1542.3h20.8M395.2 1604.4h20.8M414.4 1521.8V1584.2M404 1521.8h20.8M404 1584.2h20.8M423.1 1505.2V1568M412.7 1505.2h20.8M412.7 1568h20.8M431.9 1492.9V1556M421.5 1492.9h20.8M421.5 1556h20.8M440.7 1484.9V1548.4M430.3 1484.9h20.8M430.3 1548.4h20.8M449.4 1481.2V1545M439 1481.2h20.8M439 1545h20.8M458.2 1482.5V1544.4M447.8 1482.5h20.8M447.8 1544.4h20.8M466.9 1487.8V1546.9M456.5 1487.8h20.8M456.5 1546.9h20.8M475.7 1496.6V1552.2M465.3 1496.6h20.8M465.3 1552.2h20.8M484.5 1509V1560.5M474.1 1509h20.8M474.1 1560.5h20.8M493.2 1524.1V1572.9M482.8 1524.1h20.8M482.8 1572.9h20.8M502 1543V1588.9M491.6 1543h20.8M491.6 1588.9h20.8M510.8 1565.2V1608.4M500.4 1565.2h20.8M500.4 1608.4h20.8M519.5 1589.7V1632.1M509.1 1589.7h20.8M509.1 1632.1h20.8M528.3 1618.2V1657.7M517.9 1618.2h20.8M517.9 1657.7h20.8M537 1648.7V1686.5M526.6 1648.7h20.8M526.6 1686.5h20.8M545.8 1681.5V1717.8M535.4 1681.5h20.8M535.4 1717.8h20.8M554.6 1716.4V1751.3M544.2 1716.4h20.8M544.2 1751.3h20.8M563.3 1753.1V1786.6M552.9 1753.1h20.8M552.9 1786.6h20.8M572.1 1791.3V1823.4M561.7 1791.3h20.8M561.7 1823.4h20.8M580.9 1830.3V1862M570.5 1830.3h20.8M570.5 1862h20.8M589.6 1870.3V1901.5M579.2 1870.3h20.8M579.2 1901.5h20.8M598.4 1911.1V1941.8M588 1911.1h20.8M588 1941.8h20.8M607.1 1952.1V1982.7M596.7 1952.1h20.8M596.7 1982.7h20.8M615.9 1992.9V2024.1M605.5 1992.9h20.8M605.5 2024.1h20.8M624.7 2033.6V2065.4M614.3 2033.6h20.8M614.3 2065.4h20.8M633.4 2074V2106.3M623 2074h20.8M623 2106.3h20.8M642.2 2113.7V2146.6M631.8 2113.7h20.8M631.8 2146.6h20.8M651 2152.4V2185.9M640.6 2152.4h20.8M640.6 2185.9h20.8M659.7 2189.9V2224M649.3 2189.9h20.8M649.3 2224h20.8M668.5 2226V2260.5M658.1 2226h20.8M658.1 2260.5h20.8M677.2 2260.4V2295.3M666.8 2260.4h20.8M666.8 2295.3h20.8M686 2292.7V2328M675.6 2292.7h20.8M675.6 2328h20.8M694.8 2322.6V2358.4M684.4 2322.6h20.8M684.4 2358.4h20.8M703.5 2350V2386.2M693.1 2350h20.8M693.1 2386.2h20.8M712.3 2374.9V2410.8M701.9 2374.9h20.8M701.9 2410.8h20.8M721 2396.6V2432.2M710.6 2396.6h20.8M710.6 2432.2h20.8M729.8 2415.2V2450.5M719.4 2415.2h20.8M719.4 2450.5h20.8M738.6 2430.4V2465.3M728.2 2430.4h20.8M728.2 2465.3h20.8M747.3 2442.2V2476.8M736.9 2442.2h20.8M736.9 2476.8h20.8M756.1 2450.8V2485.1M745.7 2450.8h20.8M745.7 2485.1h20.8M764.9 2456.8V2490.8M754.5 2456.8h20.8M754.5 2490.8h20.8M773.6 2460.8V2494.5M763.2 2460.8h20.8M763.2 2494.5h20.8M782.4 2463.3V2496.8M772 2463.3h20.8M772 2496.8h20.8M791.1 2464.7V2497.8M780.7 2464.7h20.8M780.7 2497.8h20.8M799.9 2464.9V2497.7M789.5 2464.9h20.8M789.5 2497.7h20.8M808.7 2464.5V2497.1M798.3 2464.5h20.8M798.3 2497.1h20.8M817.4 2463.2V2495.6M807 2463.2h20.8M807 2495.6h20.8M826.2 2461V2493.1M815.8 2461h20.8M815.8 2493.1h20.8M835 2457.5V2489.4M824.6 2457.5h20.8M824.6 2489.4h20.8M843.7 2452.2V2483.9M833.3 2452.2h20.8M833.3 2483.9h20.8M852.5 2444.8V2476.3M842.1 2444.8h20.8M842.1 2476.3h20.8M861.2 2435.5V2466.8M850.8 2435.5h20.8M850.8 2466.8h20.8M870 2424.8V2455.9M859.6 2424.8h20.8M859.6 2455.9h20.8M878.8 2413.3V2444.1M868.4 2413.3h20.8M868.4 2444.1h20.8M887.5 2401.4V2432M877.1 2401.4h20.8M877.1 2432h20.8M896.3 2389.7V2420M885.9 2389.7h20.8M885.9 2420h20.8M905.1 2378.6V2408.8M894.7 2378.6h20.8M894.7 2408.8h20.8M913.8 2368.7V2398.6M903.4 2368.7h20.8M903.4 2398.6h20.8M922.6 2359.9V2389.6M912.2 2359.9h20.8M912.2 2389.6h20.8M931.3 2352.4V2381.8M920.9 2352.4h20.8M920.9 2381.8h20.8M940.1 2346V2375.3M929.7 2346h20.8M929.7 2375.3h20.8M948.9 2340.9V2369.9M938.5 2340.9h20.8M938.5 2369.9h20.8M957.6 2337V2365.8M947.2 2337h20.8M947.2 2365.8h20.8M966.4 2334.3V2362.8M956 2334.3h20.8M956 2362.8h20.8M975.2 2332.8V2361.2M964.8 2332.8h20.8M964.8 2361.2h20.8M983.9 2332.6V2360.7M973.5 2332.6h20.8M973.5 2360.7h20.8M992.7 2333.4V2361.5M982.3 2333.4h20.8M982.3 2361.5h20.8M1001.4 2335.4V2363.6M991 2335.4h20.8M991 2363.6h20.8M1010.2 2338.5V2366.7M999.8 2338.5h20.8M999.8 2366.7h20.8M1019 2342.6V2371M1008.6 2342.6h20.8M1008.6 2371h20.8M1027.7 2347.9V2376.3M1017.3 2347.9h20.8M1017.3 2376.3h20.8M1036.5 2354.1V2382.6M1026.1 2354.1h20.8M1026.1 2382.6h20.8M1045.3 2361.4V2389.9M1034.9 2361.4h20.8M1034.9 2389.9h20.8M1054 2369.4V2398.1M1043.6 2369.4h20.8M1043.6 2398.1h20.8M1062.8 2378.2V2406.9M1052.4 2378.2h20.8M1052.4 2406.9h20.8M1071.5 2387.5V2416.2M1061.1 2387.5h20.8M1061.1 2416.2h20.8M1080.3 2397V2425.8M1069.9 2397h20.8M1069.9 2425.8h20.8M1089.1 2406.7V2435.6M1078.7 2406.7h20.8M1078.7 2435.6h20.8M1097.8 2416.3V2445.3M1087.4 2416.3h20.8M1087.4 2445.3h20.8M1106.6 2425.6V2454.7M1096.2 2425.6h20.8M1096.2 2454.7h20.8M1115.4 2434.4V2463.9M1105 2434.4h20.8M1105 2463.9h20.8M1124.1 2442.4V2472.4M1113.7 2442.4h20.8M1113.7 2472.4h20.8M1132.9 2449.6V2480.1M1122.5 2449.6h20.8M1122.5 2480.1h20.8M1141.6 2455.7V2486.7M1131.2 2455.7h20.8M1131.2 2486.7h20.8M1150.4 2461V2491.5M1140 2461h20.8M1140 2491.5h20.8M1159.2 2467.1V2492.4M1148.8 2467.1h20.8M1148.8 2492.4h20.8M1167.9 2472.8V2489.8M1157.5 2472.8h20.8M1157.5 2489.8h20.8M1176.7 2477V2485.6M1166.3 2477h20.8M1166.3 2485.6h20.8" stroke="#008000" stroke-width="1.7"/>
<path d="M221.6 2481.3 L224 2467 L226.4 2452.8 L228.8 2438.6 L231.2 2424.4 L233.6 2410.2 L236 2396.1 L238.4 2381.9 L240.7 2367.9 L243.1 2353.8 L245.5 2339.8 L247.9 2325.8 L250.3 2311.8 L252.7 2297.9 L255.1 2284 L257.5 2270.2 L259.9 2256.4 L262.3 2242.6 L264.7 2228.8 L267.1 2215.1 L269.5 2201.5 L271.9 2187.8 L274.3 2174.3 L276.7 2160.7 L279 2147.2 L281.4 2133.8 L283.8 2120.4 L286.2 2107.1 L288.6 2093.8 L291 2080.6 L293.4 2067.4 L295.8 2054.3 L298.2 2041.3 L300.6 2028.3 L303 2015.4 L305.4 2002.6 L307.8 1989.8 L310.2 1977.1 L312.6 1964.5 L315 1952 L317.3 1939.5 L319.7 1927.2 L322.1 1914.9 L324.5 1902.7 L326.9 1890.6 L329.3 1878.6 L331.7 1866.7 L334.1 1854.8 L336.5 1843.1 L338.9 1831.5 L341.3 1820 L343.7 1808.5 L346.1 1797.2 L348.5 1786 L350.9 1775 L353.3 1764 L355.6 1753.2 L358 1742.6 L360.4 1732.1 L362.8 1721.8 L365.2 1711.6 L367.6 1701.6 L370 1691.9 L372.4 1682.3 L374.8 1672.9 L377.2 1663.8 L379.6 1654.8 L382 1646.1 L384.4 1637.7 L386.8 1629.4 L389.2 1621.4 L391.6 1613.7 L393.9 1606.2 L396.3 1598.9 L398.7 1591.9 L401.1 1585.2 L403.5 1578.8 L405.9 1572.6 L408.3 1566.7 L410.7 1561.1 L413.1 1555.7 L415.5 1550.7 L417.9 1546 L420.3 1541.5 L422.7 1537.4 L425.1 1533.6 L427.5 1530.1 L429.9 1526.9 L432.2 1524 L434.6 1521.5 L437 1519.3 L439.4 1517.5 L441.8 1515.9 L444.2 1514.7 L446.6 1513.8 L449 1513.2 L451.4 1512.9 L453.8 1512.8 L456.2 1513.1 L458.6 1513.6 L461 1514.3 L463.4 1515.4 L465.8 1516.6 L468.2 1518.1 L470.5 1519.9 L472.9 1521.9 L475.3 1524.1 L477.7 1526.5 L480.1 1529.2 L482.5 1532.1 L484.9 1535.3 L487.3 1538.8 L489.7 1542.5 L492.1 1546.5 L494.5 1550.8 L496.9 1555.3 L499.3 1560.1 L501.7 1565.2 L504.1 1570.5 L506.5 1576.1 L508.8 1582 L511.2 1588.1 L513.6 1594.4 L516 1600.9 L518.4 1607.7 L520.8 1614.7 L523.2 1621.9 L525.6 1629.4 L528 1637 L530.4 1644.8 L532.8 1652.9 L535.2 1661.1 L537.6 1669.5 L540 1678.1 L542.4 1686.8 L544.8 1695.7 L547.1 1704.8 L549.5 1714 L551.9 1723.4 L554.3 1732.9 L556.7 1742.5 L559.1 1752.3 L561.5 1762.2 L563.9 1772.2 L566.3 1782.3 L568.7 1792.6 L571.1 1802.9 L573.5 1813.4 L575.9 1823.9 L578.3 1834.5 L580.7 1845.3 L583 1856 L585.4 1866.9 L587.8 1877.8 L590.2 1888.8 L592.6 1899.8 L595 1910.8 L597.4 1922 L599.8 1933.1 L602.2 1944.3 L604.6 1955.5 L607 1966.7 L609.4 1977.9 L611.8 1989.1 L614.2 2000.4 L616.6 2011.6 L619 2022.8 L621.3 2034 L623.7 2045.2 L626.1 2056.4 L628.5 2067.5 L630.9 2078.6 L633.3 2089.7 L635.7 2100.7 L638.1 2111.6 L640.5 2122.5 L642.9 2133.3 L645.3 2144 L647.7 2154.7 L650.1 2165.3 L652.5 2175.8 L654.9 2186.2 L657.3 2196.5 L659.6 2206.7 L662 2216.8 L664.4 2226.7 L666.8 2236.6 L669.2 2246.3 L671.6 2255.9 L674 2265.3 L676.4 2274.6 L678.8 2283.8 L681.2 2292.8 L683.6 2301.6 L686 2310.3 L688.4 2318.8 L690.8 2327.1 L693.2 2335.2 L695.6 2343.1 L697.9 2350.9 L700.3 2358.4 L702.7 2365.7 L705.1 2372.9 L707.5 2379.8 L709.9 2386.4 L712.3 2392.9 L714.7 2399.1 L717.1 2405.1 L719.5 2410.8 L721.9 2416.3 L724.3 2421.6 L726.7 2426.6 L729.1 2431.4 L731.5 2435.9 L733.9 2440.2 L736.2 2444.2 L738.6 2448 L741 2451.5 L743.4 2454.7 L745.8 2457.7 L748.2 2460.5 L750.6 2463 L753 2465.3 L755.4 2467.4 L757.8 2469.3 L760.2 2471 L762.6 2472.5 L765 2473.9 L767.4 2475.1 L769.8 2476.2 L772.2 2477.1 L774.5 2478 L776.9 2478.7 L779.3 2479.3 L781.7 2479.9 L784.1 2480.4 L786.5 2480.8 L788.9 2481.1 L791.3 2481.3 L793.7 2481.3 L796.1 2481.3 L798.5 2481.3 L800.9 2481.3 L803.3 2481.3 L805.7 2481.2 L808.1 2480.9 L810.5 2480.6 L812.8 2480.2 L815.2 2479.8 L817.6 2479.4 L820 2478.8 L822.4 2478.2 L824.8 2477.5 L827.2 2476.7 L829.6 2475.8 L832 2474.8 L834.4 2473.7 L836.8 2472.5 L839.2 2471.1 L841.6 2469.6 L844 2467.9 L846.4 2466 L848.8 2464 L851.1 2461.8 L853.5 2459.5 L855.9 2457 L858.3 2454.4 L860.7 2451.7 L863.1 2448.9 L865.5 2446 L867.9 2443 L870.3 2440 L872.7 2436.8 L875.1 2433.7 L877.5 2430.4 L879.9 2427.2 L882.3 2423.9 L884.7 2420.6 L887.1 2417.3 L889.4 2414.1 L891.8 2410.8 L894.2 2407.6 L896.6 2404.4 L899 2401.3 L901.4 2398.2 L903.8 2395.2 L906.2 2392.3 L908.6 2389.5 L911 2386.8 L913.4 2384.1 L915.8 2381.6 L918.2 2379.1 L920.6 2376.7 L923 2374.4 L925.3 2372.2 L927.7 2370.1 L930.1 2368.1 L932.5 2366.2 L934.9 2364.3 L937.3 2362.6 L939.7 2360.9 L942.1 2359.3 L944.5 2357.9 L946.9 2356.5 L949.3 2355.2 L951.7 2354 L954.1 2352.8 L956.5 2351.8 L958.9 2350.9 L961.3 2350 L963.6 2349.3 L966 2348.6 L968.4 2348.1 L970.8 2347.6 L973.2 2347.2 L975.6 2346.9 L978 2346.7 L980.4 2346.6 L982.8 2346.6 L985.2 2346.7 L987.6 2346.8 L990 2347.1 L992.4 2347.4 L994.8 2347.8 L997.2 2348.4 L999.6 2348.9 L1001.9 2349.6 L1004.3 2350.4 L1006.7 2351.2 L1009.1 2352.2 L1011.5 2353.2 L1013.9 2354.3 L1016.3 2355.4 L1018.7 2356.7 L1021.1 2358 L1023.5 2359.4 L1025.9 2360.9 L1028.3 2362.4 L1030.7 2364.1 L1033.1 2365.8 L1035.5 2367.6 L1037.9 2369.4 L1040.2 2371.4 L1042.6 2373.4 L1045 2375.4 L1047.4 2377.6 L1049.8 2379.8 L1052.2 2382 L1054.6 2384.3 L1057 2386.7 L1059.4 2389.1 L1061.8 2391.5 L1064.2 2394 L1066.6 2396.5 L1069 2399.1 L1071.4 2401.7 L1073.8 2404.2 L1076.2 2406.9 L1078.5 2409.5 L1080.9 2412.1 L1083.3 2414.8 L1085.7 2417.4 L1088.1 2420.1 L1090.5 2422.7 L1092.9 2425.4 L1095.3 2428 L1097.7 2430.6 L1100.1 2433.2 L1102.5 2435.8 L1104.9 2438.4 L1107.3 2440.9 L1109.7 2443.4 L1112.1 2445.8 L1114.5 2448.2 L1116.8 2450.6 L1119.2 2452.9 L1121.6 2455.2 L1124 2457.3 L1126.4 2459.5 L1128.8 2461.5 L1131.2 2463.5 L1133.6 2465.4 L1136 2467.2 L1138.4 2469 L1140.8 2470.6 L1143.2 2472.2 L1145.6 2473.6 L1148 2475 L1150.4 2476.2 L1152.8 2477.3 L1155.1 2478.3 L1157.5 2479.2 L1159.9 2480 L1162.3 2480.6 L1164.7 2481.1 L1167.1 2481.3 L1169.5 2481.3 L1171.9 2481.3 L1174.3 2481.3 L1176.7 2481.3" stroke="#008000" stroke-width="4.2" stroke-linejoin="round"/>
<path d="M229.4 2432.5V2436.6M219 2432.5h20.8M219 2436.6h20.8M237.1 2383V2391.3M226.7 2383h20.8M226.7 2391.3h20.8M244.9 2333.1V2345.6M234.5 2333.1h20.8M234.5 2345.6h20.8M252.7 2283V2299.7M242.3 2283h20.8M242.3 2299.7h20.8M260.4 2233.1V2254M250 2233.1h20.8M250 2254h20.8M268.2 2183.6V2208.7M257.8 2183.6h20.8M257.8 2208.7h20.8M276 2134.8V2164M265.6 2134.8h20.8M265.6 2164h20.8M283.8 2086.7V2119.9M273.4 2086.7h20.8M273.4 2119.9h20.8M291.5 2039.4V2076.6M281.1 2039.4h20.8M281.1 2076.6h20.8M299.3 1992.8V2034M288.9 1992.8h20.8M288.9 2034h20.8M307.1 1947.1V1992.1M296.7 1947.1h20.8M296.7 1992.1h20.8M314.8 1902.1V1950.9M304.4 1902.1h20.8M304.4 1950.9h20.8M322.6 1858V1910.5M312.2 1858h20.8M312.2 1910.5h20.8M330.4 1814.7V1870.9M320 1814.7h20.8M320 1870.9h20.8M338.1 1772.2V1832M327.8 1772.2h20.8M327.8 1832h20.8M345.9 1731V1794.3M335.5 1731h20.8M335.5 1794.3h20.8M353.7 1691.8V1758.3M343.3 1691.8h20.8M343.3 1758.3h20.8M361.5 1656.5V1723.3M351.1 1656.5h20.8M351.1 1723.3h20.8M369.2 1624.3V1691.1M358.8 1624.3h20.8M358.8 1691.1h20.8M377 1595.3V1662.1M366.6 1595.3h20.8M366.6 1662.1h20.8M384.8 1569.7V1636.2M374.4 1569.7h20.8M374.4 1636.2h20.8M392.5 1547.3V1613.4M382.1 1547.3h20.8M382.1 1613.4h20.8M400.3 1528.1V1593.8M389.9 1528.1h20.8M389.9 1593.8h20.8M408.1 1512.2V1577.6M397.7 1512.2h20.8M397.7 1577.6h20.8M415.9 1499.5V1564.5M405.5 1499.5h20.8M405.5 1564.5h20.8M423.6 1490.1V1554.8M413.2 1490.1h20.8M413.2 1554.8h20.8M431.4 1484.1V1548.4M421 1484.1h20.8M421 1548.4h20.8M439.2 1481.4V1545.4M428.8 1481.4h20.8M428.8 1545.4h20.8M446.9 1482.7V1545.1M436.5 1482.7h20.8M436.5 1545.1h20.8M454.7 1487.6V1548.1M444.3 1487.6h20.8M444.3 1548.1h20.8M462.5 1495.9V1554.4M452.1 1495.9h20.8M452.1 1554.4h20.8M470.2 1508V1563.9M459.8 1508h20.8M459.8 1563.9h20.8M478 1523.6V1576.8M467.6 1523.6h20.8M467.6 1576.8h20.8M485.8 1542.6V1593.2M475.4 1542.6h20.8M475.4 1593.2h20.8M493.5 1564.6V1612.9M483.1 1564.6h20.8M483.1 1612.9h20.8M501.3 1590V1635.3M490.9 1590h20.8M490.9 1635.3h20.8M509.1 1616.6V1661.6M498.7 1616.6h20.8M498.7 1661.6h20.8M516.9 1646.3V1689.6M506.5 1646.3h20.8M506.5 1689.6h20.8M524.6 1678.2V1719.6M514.2 1678.2h20.8M514.2 1719.6h20.8M532.4 1711.9V1751.4M522 1711.9h20.8M522 1751.4h20.8M540.2 1747.2V1784.8M529.8 1747.2h20.8M529.8 1784.8h20.8M547.9 1783.7V1819.5M537.5 1783.7h20.8M537.5 1819.5h20.8M555.7 1820.2V1856.1M545.3 1820.2h20.8M545.3 1856.1h20.8M563.5 1857.4V1893.6M553.1 1857.4h20.8M553.1 1893.6h20.8M571.2 1895V1931.5M560.9 1895h20.8M560.9 1931.5h20.8M579 1932.8V1969.6M568.6 1932.8h20.8M568.6 1969.6h20.8M586.8 1970.7V2007.6M576.4 1970.7h20.8M576.4 2007.6h20.8M594.6 2008.3V2045.3M584.2 2008.3h20.8M584.2 2045.3h20.8M602.3 2045.3V2082.4M591.9 2045.3h20.8M591.9 2082.4h20.8M610.1 2081.4V2118.7M599.7 2081.4h20.8M599.7 2118.7h20.8M617.9 2116.6V2153.9M607.5 2116.6h20.8M607.5 2153.9h20.8M625.6 2150.4V2187.8M615.2 2150.4h20.8M615.2 2187.8h20.8M633.4 2182.7V2220.2M623 2182.7h20.8M623 2220.2h20.8M641.2 2213.4V2251M630.8 2213.4h20.8M630.8 2251h20.8M648.9 2242.4V2280.1M638.5 2242.4h20.8M638.5 2280.1h20.8M656.7 2269.7V2307.5M646.3 2269.7h20.8M646.3 2307.5h20.8M664.5 2295.1V2333M654.1 2295.1h20.8M654.1 2333h20.8M672.3 2318.6V2356.6M661.9 2318.6h20.8M661.9 2356.6h20.8M680 2340.1V2378.2M669.6 2340.1h20.8M669.6 2378.2h20.8M687.8 2359.6V2397.6M677.4 2359.6h20.8M677.4 2397.6h20.8M695.6 2376.9V2414.9M685.2 2376.9h20.8M685.2 2414.9h20.8M703.3 2392.3V2430.1M692.9 2392.3h20.8M692.9 2430.1h20.8M711.1 2405.6V2443.3M700.7 2405.6h20.8M700.7 2443.3h20.8M718.9 2417V2454.7M708.5 2417h20.8M708.5 2454.7h20.8M726.6 2426.7V2464.2M716.2 2426.7h20.8M716.2 2464.2h20.8M734.4 2434.5V2472M724 2434.5h20.8M724 2472h20.8M742.2 2440.8V2478.1M731.8 2440.8h20.8M731.8 2478.1h20.8M750 2445.4V2482.6M739.6 2445.4h20.8M739.6 2482.6h20.8M757.7 2448.6V2485.7M747.3 2448.6h20.8M747.3 2485.7h20.8M765.5 2450.3V2487.3M755.1 2450.3h20.8M755.1 2487.3h20.8M773.3 2450.7V2487.6M762.9 2450.7h20.8M762.9 2487.6h20.8M781 2449.9V2486.7M770.6 2449.9h20.8M770.6 2486.7h20.8M788.8 2448V2484.5M778.4 2448h20.8M778.4 2484.5h20.8M796.6 2445.1V2481.2M786.2 2445.1h20.8M786.2 2481.2h20.8M804.4 2441.1V2476.8M794 2441.1h20.8M794 2476.8h20.8M812.1 2436.2V2471.6M801.7 2436.2h20.8M801.7 2471.6h20.8M819.9 2430.5V2465.5M809.5 2430.5h20.8M809.5 2465.5h20.8M827.7 2424.2V2458.8M817.3 2424.2h20.8M817.3 2458.8h20.8M835.4 2417.4V2451.6M825 2417.4h20.8M825 2451.6h20.8M843.2 2410.4V2444.3M832.8 2410.4h20.8M832.8 2444.3h20.8M851 2403.4V2437M840.6 2403.4h20.8M840.6 2437h20.8M858.7 2396.2V2429.3M848.3 2396.2h20.8M848.3 2429.3h20.8M866.5 2388.7V2421.5M856.1 2388.7h20.8M856.1 2421.5h20.8M874.3 2381.3V2413.7M863.9 2381.3h20.8M863.9 2413.7h20.8M882 2374.4V2406.4M871.6 2374.4h20.8M871.6 2406.4h20.8M889.8 2367.9V2399.6M879.4 2367.9h20.8M879.4 2399.6h20.8M897.6 2361.9V2393.3M887.2 2361.9h20.8M887.2 2393.3h20.8M905.4 2356.5V2387.4M895 2356.5h20.8M895 2387.4h20.8M913.1 2351.5V2382.2M902.7 2351.5h20.8M902.7 2382.2h20.8M920.9 2347.2V2377.5M910.5 2347.2h20.8M910.5 2377.5h20.8M928.7 2343.5V2373.4M918.3 2343.5h20.8M918.3 2373.4h20.8M936.4 2340.4V2369.9M926 2340.4h20.8M926 2369.9h20.8M944.2 2337.9V2367.1M933.8 2337.9h20.8M933.8 2367.1h20.8M952 2336.2V2365M941.6 2336.2h20.8M941.6 2365h20.8M959.8 2335.2V2363.6M949.4 2335.2h20.8M949.4 2363.6h20.8M967.5 2335V2363.1M957.1 2335h20.8M957.1 2363.1h20.8M975.3 2335.4V2363.7M964.9 2335.4h20.8M964.9 2363.7h20.8M983.1 2336.7V2365.2M972.7 2336.7h20.8M972.7 2365.2h20.8M990.8 2339V2367.7M980.4 2339h20.8M980.4 2367.7h20.8M998.6 2342.4V2371.3M988.2 2342.4h20.8M988.2 2371.3h20.8M1006.4 2346.8V2376M996 2346.8h20.8M996 2376h20.8M1014.1 2352.4V2381.7M1003.7 2352.4h20.8M1003.7 2381.7h20.8M1021.9 2359V2388.6M1011.5 2359h20.8M1011.5 2388.6h20.8M1029.7 2366.6V2396.3M1019.3 2366.6h20.8M1019.3 2396.3h20.8M1037.4 2375V2404.9M1027 2375h20.8M1027 2404.9h20.8M1045.2 2384.1V2414.3M1034.8 2384.1h20.8M1034.8 2414.3h20.8M1053 2393.9V2424.2M1042.6 2393.9h20.8M1042.6 2424.2h20.8M1060.8 2404.2V2434.7M1050.4 2404.2h20.8M1050.4 2434.7h20.8M1068.5 2414.9V2445.7M1058.1 2414.9h20.8M1058.1 2445.7h20.8M1076.3 2425.9V2456.9M1065.9 2425.9h20.8M1065.9 2456.9h20.8M1084.1 2437V2468M1073.7 2437h20.8M1073.7 2468h20.8M1091.8 2447.3V2478.3M1081.4 2447.3h20.8M1081.4 2478.3h20.8M1099.6 2456.1V2487M1089.2 2456.1h20.8M1089.2 2487h20.8M1107.4 2462.4V2493.4M1097 2462.4h20.8M1097 2493.4h20.8M1115.1 2467.2V2495.3M1104.7 2467.2h20.8M1104.7 2495.3h20.8M1122.9 2468.7V2493.9M1112.5 2468.7h20.8M1112.5 2493.9h20.8M1130.7 2471.1V2491.5M1120.3 2471.1h20.8M1120.3 2491.5h20.8M1138.5 2472.6V2488.1M1128.1 2472.6h20.8M1128.1 2488.1h20.8M1146.2 2474.4V2485.5M1135.8 2474.4h20.8M1135.8 2485.5h20.8M1154 2477.9V2484.7M1143.6 2477.9h20.8M1143.6 2484.7h20.8" stroke="#00e000" stroke-width="1.7"/>
<path d="M221.6 2481.3 L223.9 2467.3 L226.3 2453.3 L228.6 2439.2 L230.9 2425 L233.3 2410.8 L235.6 2396.5 L238 2382.1 L240.3 2367.8 L242.6 2353.4 L245 2339 L247.3 2324.6 L249.6 2310.1 L252 2295.7 L254.3 2281.3 L256.7 2266.9 L259 2252.5 L261.3 2238.2 L263.7 2223.9 L266 2209.6 L268.3 2195.4 L270.7 2181.3 L273 2167.2 L275.3 2153.2 L277.7 2139.3 L280 2125.4 L282.4 2111.6 L284.7 2097.8 L287 2084.1 L289.4 2070.5 L291.7 2057 L294 2043.5 L296.4 2030.1 L298.7 2016.7 L301.1 2003.4 L303.4 1990.2 L305.7 1977.1 L308.1 1964 L310.4 1951 L312.7 1938.1 L315.1 1925.2 L317.4 1912.4 L319.7 1899.7 L322.1 1887.1 L324.4 1874.5 L326.8 1862 L329.1 1849.6 L331.4 1837.2 L333.8 1824.9 L336.1 1812.7 L338.4 1800.6 L340.8 1788.6 L343.1 1776.7 L345.5 1765 L347.8 1753.4 L350.1 1742 L352.5 1730.8 L354.8 1719.8 L357.1 1709.1 L359.5 1698.6 L361.8 1688.4 L364.1 1678.4 L366.5 1668.7 L368.8 1659.3 L371.2 1650.2 L373.5 1641.4 L375.8 1632.9 L378.2 1624.7 L380.5 1616.7 L382.8 1609 L385.2 1601.7 L387.5 1594.6 L389.9 1587.8 L392.2 1581.3 L394.5 1575.1 L396.9 1569.2 L399.2 1563.5 L401.5 1558.2 L403.9 1553.2 L406.2 1548.4 L408.5 1544 L410.9 1539.8 L413.2 1536 L415.6 1532.4 L417.9 1529.2 L420.2 1526.2 L422.6 1523.6 L424.9 1521.2 L427.2 1519.2 L429.6 1517.4 L431.9 1516 L434.3 1514.8 L436.6 1514 L438.9 1513.4 L441.3 1513.2 L443.6 1513.3 L445.9 1513.7 L448.3 1514.4 L450.6 1515.3 L452.9 1516.7 L455.3 1518.3 L457.6 1520.2 L460 1522.4 L462.3 1525 L464.6 1527.8 L467 1531 L469.3 1534.5 L471.6 1538.3 L474 1542.4 L476.3 1546.8 L478.7 1551.5 L481 1556.6 L483.3 1561.9 L485.7 1567.6 L488 1573.5 L490.3 1579.8 L492.7 1586.3 L495 1593 L497.3 1600.1 L499.7 1607.4 L502 1614.9 L504.4 1622.7 L506.7 1630.7 L509 1638.9 L511.4 1647.3 L513.7 1656 L516 1664.8 L518.4 1673.8 L520.7 1683.1 L523.1 1692.5 L525.4 1702 L527.7 1711.8 L530.1 1721.6 L532.4 1731.7 L534.7 1741.8 L537.1 1752.2 L539.4 1762.6 L541.7 1773.1 L544.1 1783.8 L546.4 1794.6 L548.8 1805.4 L551.1 1816.3 L553.4 1827.4 L555.8 1838.5 L558.1 1849.6 L560.4 1860.8 L562.8 1872.1 L565.1 1883.4 L567.5 1894.8 L569.8 1906.1 L572.1 1917.5 L574.5 1928.9 L576.8 1940.4 L579.1 1951.8 L581.5 1963.2 L583.8 1974.6 L586.1 1986 L588.5 1997.4 L590.8 2008.7 L593.2 2020 L595.5 2031.2 L597.8 2042.4 L600.2 2053.6 L602.5 2064.6 L604.8 2075.6 L607.2 2086.5 L609.5 2097.4 L611.9 2108.1 L614.2 2118.7 L616.5 2129.2 L618.9 2139.6 L621.2 2149.9 L623.5 2160.1 L625.9 2170.1 L628.2 2180 L630.5 2189.7 L632.9 2199.3 L635.2 2208.8 L637.6 2218.1 L639.9 2227.2 L642.2 2236.2 L644.6 2245.1 L646.9 2253.8 L649.2 2262.3 L651.6 2270.7 L653.9 2278.9 L656.3 2287 L658.6 2294.9 L660.9 2302.6 L663.3 2310.2 L665.6 2317.5 L667.9 2324.7 L670.3 2331.8 L672.6 2338.6 L674.9 2345.3 L677.3 2351.7 L679.6 2358 L682 2364.2 L684.3 2370.1 L686.6 2375.8 L689 2381.3 L691.3 2386.7 L693.6 2391.8 L696 2396.8 L698.3 2401.5 L700.7 2406.1 L703 2410.5 L705.3 2414.8 L707.7 2418.8 L710 2422.7 L712.3 2426.4 L714.7 2429.9 L717 2433.3 L719.3 2436.5 L721.7 2439.5 L724 2442.4 L726.4 2445.1 L728.7 2447.6 L731 2450 L733.4 2452.3 L735.7 2454.4 L738 2456.3 L740.4 2458.1 L742.7 2459.8 L745.1 2461.3 L747.4 2462.7 L749.7 2463.9 L752.1 2465 L754.4 2466 L756.7 2466.8 L759.1 2467.5 L761.4 2468.1 L763.7 2468.6 L766.1 2468.9 L768.4 2469.1 L770.8 2469.2 L773.1 2469.2 L775.4 2469.1 L777.8 2468.8 L780.1 2468.5 L782.4 2468 L784.8 2467.5 L787.1 2466.8 L789.5 2466 L791.8 2465.2 L794.1 2464.2 L796.5 2463.2 L798.8 2462 L801.1 2460.8 L803.5 2459.5 L805.8 2458.1 L808.1 2456.6 L810.5 2455.1 L812.8 2453.4 L815.2 2451.7 L817.5 2449.9 L819.8 2448.1 L822.2 2446.2 L824.5 2444.2 L826.8 2442.2 L829.2 2440.1 L831.5 2438 L833.9 2435.9 L836.2 2433.8 L838.5 2431.7 L840.9 2429.5 L843.2 2427.4 L845.5 2425.2 L847.9 2423.1 L850.2 2420.9 L852.5 2418.7 L854.9 2416.5 L857.2 2414.3 L859.6 2412 L861.9 2409.6 L864.2 2407.3 L866.6 2405 L868.9 2402.7 L871.2 2400.4 L873.6 2398.2 L875.9 2396 L878.3 2393.8 L880.6 2391.7 L882.9 2389.6 L885.3 2387.6 L887.6 2385.6 L889.9 2383.6 L892.3 2381.7 L894.6 2379.9 L896.9 2378.1 L899.3 2376.3 L901.6 2374.6 L904 2372.9 L906.3 2371.3 L908.6 2369.7 L911 2368.2 L913.3 2366.8 L915.6 2365.3 L918 2364 L920.3 2362.7 L922.7 2361.4 L925 2360.2 L927.3 2359.1 L929.7 2358 L932 2356.9 L934.3 2356 L936.7 2355 L939 2354.2 L941.3 2353.4 L943.7 2352.7 L946 2352 L948.4 2351.4 L950.7 2350.8 L953 2350.4 L955.4 2350 L957.7 2349.6 L960 2349.4 L962.4 2349.2 L964.7 2349.1 L967.1 2349 L969.4 2349.1 L971.7 2349.2 L974.1 2349.4 L976.4 2349.7 L978.7 2350.1 L981.1 2350.5 L983.4 2351.1 L985.7 2351.7 L988.1 2352.4 L990.4 2353.2 L992.8 2354.1 L995.1 2355.2 L997.4 2356.3 L999.8 2357.5 L1002.1 2358.8 L1004.4 2360.2 L1006.8 2361.7 L1009.1 2363.3 L1011.5 2365 L1013.8 2366.8 L1016.1 2368.7 L1018.5 2370.7 L1020.8 2372.8 L1023.1 2374.9 L1025.5 2377.2 L1027.8 2379.5 L1030.1 2381.9 L1032.5 2384.4 L1034.8 2387 L1037.2 2389.6 L1039.5 2392.3 L1041.8 2395.1 L1044.2 2397.9 L1046.5 2400.8 L1048.8 2403.7 L1051.2 2406.7 L1053.5 2409.8 L1055.9 2412.8 L1058.2 2416 L1060.5 2419.1 L1062.9 2422.4 L1065.2 2425.6 L1067.5 2428.9 L1069.9 2432.2 L1072.2 2435.5 L1074.5 2438.9 L1076.9 2442.3 L1079.2 2445.6 L1081.6 2449 L1083.9 2452.3 L1086.2 2455.5 L1088.6 2458.6 L1090.9 2461.6 L1093.2 2464.5 L1095.6 2467.3 L1097.9 2469.8 L1100.3 2472.2 L1102.6 2474.3 L1104.9 2476.2 L1107.3 2477.8 L1109.6 2479.2 L1111.9 2480.2 L1114.3 2481 L1116.6 2481.3 L1118.9 2481.3 L1121.3 2481.3 L1123.6 2481.3 L1126 2481.3 L1128.3 2481.3 L1130.6 2481.3 L1133 2481.1 L1135.3 2480.8 L1137.6 2480.5 L1140 2480.2 L1142.3 2480 L1144.7 2479.9 L1147 2480 L1149.3 2480.2 L1151.7 2480.7 L1154 2481.3" stroke="#00e000" stroke-width="4.2" stroke-linejoin="round"/>
</g>
<text class="tk" transform="translate(187 2498) scale(1 1.07)" text-anchor="end">0</text>
<text class="tk" transform="translate(187 2304.3) scale(1 1.07)" text-anchor="end">20</text>
<text class="tk" transform="translate(187 2110.7) scale(1 1.07)" text-anchor="end">40</text>
<text class="tk" transform="translate(187 1917) scale(1 1.07)" text-anchor="end">60</text>
<text class="tk" transform="translate(187 1723.4) scale(1 1.07)" text-anchor="end">80</text>
<text class="tk" transform="translate(187 1529.7) scale(1 1.07)" text-anchor="end">100</text>
<text class="tk" transform="translate(221.6 2557.8) scale(1 1.07)" text-anchor="middle">0</text>
<text class="tk" transform="translate(377 2557.8) scale(1 1.07)" text-anchor="middle">5</text>
<text class="tk" transform="translate(532.4 2557.8) scale(1 1.07)" text-anchor="middle">10</text>
<text class="tk" transform="translate(687.8 2557.8) scale(1 1.07)" text-anchor="middle">15</text>
<text class="tk" transform="translate(843.2 2557.8) scale(1 1.07)" text-anchor="middle">20</text>
<text class="tk" transform="translate(998.6 2557.8) scale(1 1.07)" text-anchor="middle">25</text>
<text class="tk" transform="translate(1154 2557.8) scale(1 1.07)" text-anchor="middle">30</text>
<text class="tk" transform="translate(1309.4 2557.8) scale(1 1.07)" text-anchor="middle">35</text>
<text class="ti" font-size="59.2" x="569.3" y="2634.7" textLength="458.8" lengthAdjust="spacingAndGlyphs">Particle sizes (nm)</text>
<text class="ti" font-size="59.2" transform="translate(87.3 2312.3) rotate(-90)" textLength="654.7" lengthAdjust="spacingAndGlyphs">Volume distribution (a.u.)</text>
<path d="M715.5 2134.9H855.8" stroke="#008000" stroke-width="4.4" stroke-linecap="round" fill="none"/>
<text class="lg" x="873" y="2155.6">CeMnO<tspan font-size="29" dy="19.5">x</tspan><tspan dy="-19.5">/SBA-15 (9:1)</tspan></text>
<path d="M715.5 2229.5H855.8" stroke="#00e000" stroke-width="4.4" stroke-linecap="round" fill="none"/>
<text class="lg" x="873" y="2249.2">Ni/CeMnO<tspan font-size="29" dy="19.5">x</tspan><tspan dy="-19.5">/SBA-15 (9:1)</tspan></text>
<text class="lg" x="1366" y="1508.7">(b)</text>
</g>
<g>
<path d="M221.6 2879.9 V3900.5 M219.4 3898.3 H1311.6 M221.6 3898.3 h-20.2 M221.6 3801.5 h-10.5 M221.6 3704.6 h-20.2 M221.6 3607.8 h-10.5 M221.6 3511 h-20.2 M221.6 3414.2 h-10.5 M221.6 3317.3 h-20.2 M221.6 3220.5 h-10.5 M221.6 3123.7 h-20.2 M221.6 3026.8 h-10.5 M221.6 2930 h-20.2 M221.6 3898.3 v19.5 M299.3 3898.3 v10.5 M377 3898.3 v19.5 M454.7 3898.3 v10.5 M532.4 3898.3 v19.5 M610.1 3898.3 v10.5 M687.8 3898.3 v19.5 M765.5 3898.3 v10.5 M843.2 3898.3 v19.5 M920.9 3898.3 v10.5 M998.6 3898.3 v19.5 M1076.3 3898.3 v10.5 M1154 3898.3 v19.5 M1231.7 3898.3 v10.5 M1309.4 3898.3 v19.5" fill="none" stroke="#000" stroke-width="4.4"/>
<clipPath id="cp2"><rect x="221.6" y="2871.9" width="1270" height="1026.4"/></clipPath>
<g clip-path="url(#cp2)" fill="none">
<path d="M228.8 3848.6V3854.6M218.4 3848.6h20.8M218.4 3854.6h20.8M235.9 3797.9V3810M225.5 3797.9h20.8M225.5 3810h20.8M243.1 3746.5V3764.8M232.7 3746.5h20.8M232.7 3764.8h20.8M250.3 3694.6V3719.1M239.9 3694.6h20.8M239.9 3719.1h20.8M257.5 3642.4V3673.2M247.1 3642.4h20.8M247.1 3673.2h20.8M264.6 3590.1V3627.2M254.2 3590.1h20.8M254.2 3627.2h20.8M271.8 3538.1V3581.5M261.4 3538.1h20.8M261.4 3581.5h20.8M279 3486.6V3536.1M268.6 3486.6h20.8M268.6 3536.1h20.8M286.2 3435.7V3491.4M275.8 3435.7h20.8M275.8 3491.4h20.8M293.3 3385.8V3447.5M282.9 3385.8h20.8M282.9 3447.5h20.8M300.5 3337V3404.6M290.1 3337h20.8M290.1 3404.6h20.8M307.7 3289.6V3362.9M297.3 3289.6h20.8M297.3 3362.9h20.8M314.8 3243.8V3322.6M304.4 3243.8h20.8M304.4 3322.6h20.8M322 3199.8V3283.8M311.6 3199.8h20.8M311.6 3283.8h20.8M329.2 3157.8V3246.9M318.8 3157.8h20.8M318.8 3246.9h20.8M336.4 3118.5V3211.5M326 3118.5h20.8M326 3211.5h20.8M343.5 3083.4V3176.4M333.1 3083.4h20.8M333.1 3176.4h20.8M350.7 3050.9V3143.8M340.3 3050.9h20.8M340.3 3143.8h20.8M357.9 3021V3114M347.5 3021h20.8M347.5 3114h20.8M365 2994.1V3087M354.6 2994.1h20.8M354.6 3087h20.8M372.2 2970.4V3062.8M361.8 2970.4h20.8M361.8 3062.8h20.8M379.4 2949.8V3041.7M369 2949.8h20.8M369 3041.7h20.8M386.6 2932.1V3023.6M376.2 2932.1h20.8M376.2 3023.6h20.8M393.7 2917.5V3008.3M383.3 2917.5h20.8M383.3 3008.3h20.8M400.9 2906.1V2995.6M390.5 2906.1h20.8M390.5 2995.6h20.8M408.1 2897.5V2985.7M397.7 2897.5h20.8M397.7 2985.7h20.8M415.3 2891.8V2978.6M404.9 2891.8h20.8M404.9 2978.6h20.8M422.4 2888.8V2974.3M412 2888.8h20.8M412 2974.3h20.8M429.6 2888.7V2972.7M419.2 2888.7h20.8M419.2 2972.7h20.8M436.8 2891.9V2973M426.4 2891.9h20.8M426.4 2973h20.8M443.9 2897.9V2976M433.5 2897.9h20.8M433.5 2976h20.8M451.1 2906.4V2981.5M440.7 2906.4h20.8M440.7 2981.5h20.8M458.3 2917.5V2989.6M447.9 2917.5h20.8M447.9 2989.6h20.8M465.5 2931.1V3000.4M455.1 2931.1h20.8M455.1 3000.4h20.8M472.6 2947.4V3013.4M462.2 2947.4h20.8M462.2 3013.4h20.8M479.8 2965.7V3029.2M469.4 2965.7h20.8M469.4 3029.2h20.8M487 2986.2V3047.3M476.6 2986.2h20.8M476.6 3047.3h20.8M494.1 3008.3V3067.9M483.7 3008.3h20.8M483.7 3067.9h20.8M501.3 3032V3090.7M490.9 3032h20.8M490.9 3090.7h20.8M508.5 3057.5V3114.9M498.1 3057.5h20.8M498.1 3114.9h20.8M515.7 3084.8V3140.2M505.3 3084.8h20.8M505.3 3140.2h20.8M522.8 3112.8V3167.2M512.4 3112.8h20.8M512.4 3167.2h20.8M530 3141.9V3195.3M519.6 3141.9h20.8M519.6 3195.3h20.8M537.2 3171.8V3224.3M526.8 3171.8h20.8M526.8 3224.3h20.8M544.4 3202.4V3253.8M534 3202.4h20.8M534 3253.8h20.8M551.5 3233.4V3283.8M541.1 3233.4h20.8M541.1 3283.8h20.8M558.7 3264.7V3314.1M548.3 3264.7h20.8M548.3 3314.1h20.8M565.9 3295.7V3344.6M555.5 3295.7h20.8M555.5 3344.6h20.8M573 3326.8V3374.9M562.6 3326.8h20.8M562.6 3374.9h20.8M580.2 3357.7V3405M569.8 3357.7h20.8M569.8 3405h20.8M587.4 3388.2V3434.7M577 3388.2h20.8M577 3434.7h20.8M594.6 3417.7V3464.6M584.2 3417.7h20.8M584.2 3464.6h20.8M601.7 3446.6V3493.9M591.3 3446.6h20.8M591.3 3493.9h20.8M608.9 3475V3522.3M598.5 3475h20.8M598.5 3522.3h20.8M616.1 3502.5V3549.8M605.7 3502.5h20.8M605.7 3549.8h20.8M623.2 3529V3576.4M612.8 3529h20.8M612.8 3576.4h20.8M630.4 3554.4V3601.9M620 3554.4h20.8M620 3601.9h20.8M637.6 3578.7V3626.2M627.2 3578.7h20.8M627.2 3626.2h20.8M644.8 3601.6V3649.2M634.4 3601.6h20.8M634.4 3649.2h20.8M651.9 3623V3670.7M641.5 3623h20.8M641.5 3670.7h20.8M659.1 3643V3690.7M648.7 3643h20.8M648.7 3690.7h20.8M666.3 3661.5V3709.3M655.9 3661.5h20.8M655.9 3709.3h20.8M673.5 3678.5V3726.4M663.1 3678.5h20.8M663.1 3726.4h20.8M680.6 3694.1V3742M670.2 3694.1h20.8M670.2 3742h20.8M687.8 3708.1V3756.1M677.4 3708.1h20.8M677.4 3756.1h20.8M695 3720.7V3768.7M684.6 3720.7h20.8M684.6 3768.7h20.8M702.1 3731.7V3779.8M691.7 3731.7h20.8M691.7 3779.8h20.8M709.3 3741.2V3789.3M698.9 3741.2h20.8M698.9 3789.3h20.8M716.5 3749.2V3797.4M706.1 3749.2h20.8M706.1 3797.4h20.8M723.7 3755.7V3804M713.3 3755.7h20.8M713.3 3804h20.8M730.8 3760.9V3809.1M720.4 3760.9h20.8M720.4 3809.1h20.8M738 3764.7V3813M727.6 3764.7h20.8M727.6 3813h20.8M745.2 3767.3V3815.7M734.8 3767.3h20.8M734.8 3815.7h20.8M752.4 3768.8V3817.1M742 3768.8h20.8M742 3817.1h20.8M759.5 3769.2V3817.4M749.1 3769.2h20.8M749.1 3817.4h20.8M766.7 3768.7V3816.7M756.3 3768.7h20.8M756.3 3816.7h20.8M773.9 3767.2V3815.1M763.5 3767.2h20.8M763.5 3815.1h20.8M781 3765V3812.6M770.6 3765h20.8M770.6 3812.6h20.8M788.2 3762V3809.4M777.8 3762h20.8M777.8 3809.4h20.8M795.4 3758.4V3805.7M785 3758.4h20.8M785 3805.7h20.8M802.6 3754.3V3801.4M792.2 3754.3h20.8M792.2 3801.4h20.8M809.7 3750V3796.9M799.3 3750h20.8M799.3 3796.9h20.8M816.9 3745.4V3792.1M806.5 3745.4h20.8M806.5 3792.1h20.8M824.1 3740.7V3787.3M813.7 3740.7h20.8M813.7 3787.3h20.8M831.2 3736.1V3782.5M820.8 3736.1h20.8M820.8 3782.5h20.8M838.4 3731.7V3777.8M828 3731.7h20.8M828 3777.8h20.8M845.6 3727.5V3773.5M835.2 3727.5h20.8M835.2 3773.5h20.8M852.8 3723.8V3769.7M842.4 3723.8h20.8M842.4 3769.7h20.8M859.9 3720.7V3766.4M849.5 3720.7h20.8M849.5 3766.4h20.8M867.1 3718.2V3763.7M856.7 3718.2h20.8M856.7 3763.7h20.8M874.3 3716.4V3761.7M863.9 3716.4h20.8M863.9 3761.7h20.8M881.5 3715.4V3760.5M871.1 3715.4h20.8M871.1 3760.5h20.8M888.6 3715.1V3760.1M878.2 3715.1h20.8M878.2 3760.1h20.8M895.8 3715.7V3760.6M885.4 3715.7h20.8M885.4 3760.6h20.8M903 3717.3V3762M892.6 3717.3h20.8M892.6 3762h20.8M910.1 3719.8V3764.4M899.7 3719.8h20.8M899.7 3764.4h20.8M917.3 3723.4V3767.9M906.9 3723.4h20.8M906.9 3767.9h20.8M924.5 3728V3772.3M914.1 3728h20.8M914.1 3772.3h20.8M931.7 3733.4V3777.7M921.3 3733.4h20.8M921.3 3777.7h20.8M938.8 3739.6V3783.7M928.4 3739.6h20.8M928.4 3783.7h20.8M946 3746.4V3790.5M935.6 3746.4h20.8M935.6 3790.5h20.8M953.2 3753.8V3797.7M942.8 3753.8h20.8M942.8 3797.7h20.8M960.3 3761.6V3805.4M949.9 3761.6h20.8M949.9 3805.4h20.8M967.5 3769.8V3813.4M957.1 3769.8h20.8M957.1 3813.4h20.8M974.7 3778.1V3821.7M964.3 3778.1h20.8M964.3 3821.7h20.8M981.9 3786.6V3830M971.5 3786.6h20.8M971.5 3830h20.8M989 3795.2V3838.3M978.6 3795.2h20.8M978.6 3838.3h20.8M996.2 3803.6V3846.5M985.8 3803.6h20.8M985.8 3846.5h20.8M1003.4 3811.7V3854.5M993 3811.7h20.8M993 3854.5h20.8M1010.6 3819.6V3862.1M1000.2 3819.6h20.8M1000.2 3862.1h20.8M1017.7 3827V3869.3M1007.3 3827h20.8M1007.3 3869.3h20.8M1024.9 3833.9V3876M1014.5 3833.9h20.8M1014.5 3876h20.8M1032.1 3840.1V3882M1021.7 3840.1h20.8M1021.7 3882h20.8M1039.2 3845.5V3887.2M1028.8 3845.5h20.8M1028.8 3887.2h20.8M1046.4 3850.1V3891.6M1036 3850.1h20.8M1036 3891.6h20.8M1053.6 3853.7V3895M1043.2 3853.7h20.8M1043.2 3895h20.8M1060.8 3856.2V3897.3M1050.4 3856.2h20.8M1050.4 3897.3h20.8M1067.9 3857.8V3898.7M1057.5 3857.8h20.8M1057.5 3898.7h20.8M1075.1 3858.5V3899.2M1064.7 3858.5h20.8M1064.7 3899.2h20.8M1082.3 3858.9V3899.1M1071.9 3858.9h20.8M1071.9 3899.1h20.8M1089.4 3858.9V3898.6M1079 3858.9h20.8M1079 3898.6h20.8M1096.6 3858.9V3898.1M1086.2 3858.9h20.8M1086.2 3898.1h20.8M1103.8 3858.9V3897.6M1093.4 3858.9h20.8M1093.4 3897.6h20.8M1111 3859.3V3897.4M1100.6 3859.3h20.8M1100.6 3897.4h20.8M1118.1 3860.7V3897.3M1107.7 3860.7h20.8M1107.7 3897.3h20.8M1125.3 3863.2V3897.7M1114.9 3863.2h20.8M1114.9 3897.7h20.8M1132.5 3866.7V3899.1M1122.1 3866.7h20.8M1122.1 3899.1h20.8M1139.7 3873.2V3899.9M1129.3 3873.2h20.8M1129.3 3899.9h20.8M1146.8 3881.9V3901.3M1136.4 3881.9h20.8M1136.4 3901.3h20.8M1154 3898.3V3898.3M1143.6 3898.3h20.8M1143.6 3898.3h20.8" stroke="#0000f8" stroke-width="1.7"/>
<path d="M221.6 3898.3 L223.9 3883.2 L226.3 3868 L228.6 3852.7 L230.9 3837.2 L233.3 3821.7 L235.6 3806.1 L238 3790.5 L240.3 3774.7 L242.6 3758.9 L245 3743.1 L247.3 3727.2 L249.6 3711.2 L252 3695.3 L254.3 3679.3 L256.7 3663.3 L259 3647.3 L261.3 3631.3 L263.7 3615.3 L266 3599.3 L268.3 3583.4 L270.7 3567.5 L273 3551.6 L275.3 3535.8 L277.7 3520 L280 3504.4 L282.4 3488.7 L284.7 3473.2 L287 3457.7 L289.4 3442.4 L291.7 3427.1 L294 3412 L296.4 3397 L298.7 3382.1 L301.1 3367.3 L303.4 3352.7 L305.7 3338.2 L308.1 3323.8 L310.4 3309.7 L312.7 3295.7 L315.1 3281.8 L317.4 3268.2 L319.7 3254.7 L322.1 3241.4 L324.4 3228.3 L326.8 3215.5 L329.1 3202.8 L331.4 3190.4 L333.8 3178.2 L336.1 3166.3 L338.4 3154.5 L340.8 3143.1 L343.1 3131.9 L345.5 3120.9 L347.8 3110.3 L350.1 3099.9 L352.5 3089.8 L354.8 3079.9 L357.1 3070.4 L359.5 3061.2 L361.8 3052.3 L364.1 3043.7 L366.5 3035.5 L368.8 3027.6 L371.2 3020 L373.5 3012.7 L375.8 3005.7 L378.2 2999.1 L380.5 2992.8 L382.8 2986.8 L385.2 2981.1 L387.5 2975.7 L389.9 2970.6 L392.2 2965.9 L394.5 2961.4 L396.9 2957.3 L399.2 2953.4 L401.5 2949.9 L403.9 2946.6 L406.2 2943.7 L408.5 2941.1 L410.9 2938.8 L413.2 2936.7 L415.6 2935 L417.9 2933.5 L420.2 2932.4 L422.6 2931.5 L424.9 2930.9 L427.2 2930.7 L429.6 2930.7 L431.9 2931 L434.3 2931.5 L436.6 2932.4 L438.9 2933.5 L441.3 2934.9 L443.6 2936.6 L445.9 2938.6 L448.3 2940.9 L450.6 2943.4 L452.9 2946.2 L455.3 2949.3 L457.6 2952.6 L460 2956.2 L462.3 2960.1 L464.6 2964.2 L467 2968.6 L469.3 2973.3 L471.6 2978.2 L474 2983.4 L476.3 2988.8 L478.7 2994.5 L481 3000.5 L483.3 3006.7 L485.7 3013.1 L488 3019.7 L490.3 3026.5 L492.7 3033.6 L495 3040.8 L497.3 3048.2 L499.7 3055.9 L502 3063.7 L504.4 3071.7 L506.7 3079.8 L509 3088.1 L511.4 3096.6 L513.7 3105.2 L516 3113.9 L518.4 3122.8 L520.7 3131.8 L523.1 3140.9 L525.4 3150.1 L527.7 3159.4 L530.1 3168.8 L532.4 3178.3 L534.7 3187.9 L537.1 3197.6 L539.4 3207.3 L541.7 3217.1 L544.1 3227 L546.4 3236.9 L548.8 3246.8 L551.1 3256.8 L553.4 3266.8 L555.8 3276.8 L558.1 3286.8 L560.4 3296.9 L562.8 3306.9 L565.1 3316.9 L567.5 3326.9 L569.8 3337 L572.1 3346.9 L574.5 3356.9 L576.8 3366.9 L579.1 3376.8 L581.5 3386.7 L583.8 3396.5 L586.1 3406.3 L588.5 3416.1 L590.8 3425.8 L593.2 3435.4 L595.5 3445 L597.8 3454.5 L600.2 3464 L602.5 3473.3 L604.8 3482.6 L607.2 3491.9 L609.5 3501 L611.9 3510 L614.2 3519 L616.5 3527.8 L618.9 3536.6 L621.2 3545.2 L623.5 3553.8 L625.9 3562.2 L628.2 3570.5 L630.5 3578.6 L632.9 3586.7 L635.2 3594.6 L637.6 3602.3 L639.9 3609.9 L642.2 3617.4 L644.6 3624.7 L646.9 3631.9 L649.2 3638.9 L651.6 3645.8 L653.9 3652.5 L656.3 3659.1 L658.6 3665.4 L660.9 3671.7 L663.3 3677.8 L665.6 3683.7 L667.9 3689.5 L670.3 3695.1 L672.6 3700.5 L674.9 3705.8 L677.3 3711 L679.6 3715.9 L682 3720.8 L684.3 3725.4 L686.6 3729.9 L689 3734.3 L691.3 3738.4 L693.6 3742.5 L696 3746.3 L698.3 3750 L700.7 3753.6 L703 3756.9 L705.3 3760.2 L707.7 3763.2 L710 3766.1 L712.3 3768.8 L714.7 3771.4 L717 3773.8 L719.3 3776.1 L721.7 3778.2 L724 3780.1 L726.4 3782 L728.7 3783.6 L731 3785.1 L733.4 3786.5 L735.7 3787.8 L738 3788.9 L740.4 3789.9 L742.7 3790.7 L745.1 3791.4 L747.4 3792 L749.7 3792.5 L752.1 3792.9 L754.4 3793.1 L756.7 3793.3 L759.1 3793.3 L761.4 3793.2 L763.7 3793.1 L766.1 3792.8 L768.4 3792.4 L770.8 3791.9 L773.1 3791.4 L775.4 3790.7 L777.8 3790 L780.1 3789.1 L782.4 3788.2 L784.8 3787.3 L787.1 3786.2 L789.5 3785.1 L791.8 3783.9 L794.1 3782.7 L796.5 3781.4 L798.8 3780.1 L801.1 3778.7 L803.5 3777.3 L805.8 3775.9 L808.1 3774.4 L810.5 3772.9 L812.8 3771.4 L815.2 3769.9 L817.5 3768.3 L819.8 3766.8 L822.2 3765.2 L824.5 3763.7 L826.8 3762.2 L829.2 3760.6 L831.5 3759.1 L833.9 3757.6 L836.2 3756.1 L838.5 3754.7 L840.9 3753.3 L843.2 3751.9 L845.5 3750.6 L847.9 3749.3 L850.2 3748 L852.5 3746.9 L854.9 3745.7 L857.2 3744.7 L859.6 3743.7 L861.9 3742.8 L864.2 3741.9 L866.6 3741.1 L868.9 3740.4 L871.2 3739.8 L873.6 3739.2 L875.9 3738.7 L878.3 3738.3 L880.6 3738 L882.9 3737.8 L885.3 3737.6 L887.6 3737.6 L889.9 3737.6 L892.3 3737.8 L894.6 3738 L896.9 3738.3 L899.3 3738.8 L901.6 3739.3 L904 3739.9 L906.3 3740.7 L908.6 3741.5 L911 3742.5 L913.3 3743.6 L915.6 3744.7 L918 3746 L920.3 3747.4 L922.7 3748.9 L925 3750.5 L927.3 3752.2 L929.7 3753.9 L932 3755.8 L934.3 3757.7 L936.7 3759.7 L939 3761.8 L941.3 3764 L943.7 3766.2 L946 3768.5 L948.4 3770.8 L950.7 3773.2 L953 3775.6 L955.4 3778.1 L957.7 3780.6 L960 3783.2 L962.4 3785.8 L964.7 3788.4 L967.1 3791.1 L969.4 3793.8 L971.7 3796.5 L974.1 3799.2 L976.4 3801.9 L978.7 3804.6 L981.1 3807.4 L983.4 3810.1 L985.7 3812.9 L988.1 3815.6 L990.4 3818.3 L992.8 3821 L995.1 3823.7 L997.4 3826.4 L999.8 3829.1 L1002.1 3831.7 L1004.4 3834.3 L1006.8 3836.8 L1009.1 3839.3 L1011.5 3841.8 L1013.8 3844.2 L1016.1 3846.6 L1018.5 3848.9 L1020.8 3851.1 L1023.1 3853.3 L1025.5 3855.4 L1027.8 3857.5 L1030.1 3859.5 L1032.5 3861.4 L1034.8 3863.2 L1037.2 3864.9 L1039.5 3866.6 L1041.8 3868.1 L1044.2 3869.6 L1046.5 3870.9 L1048.8 3872.2 L1051.2 3873.3 L1053.5 3874.3 L1055.9 3875.2 L1058.2 3876 L1060.5 3876.7 L1062.9 3877.3 L1065.2 3877.8 L1067.5 3878.1 L1069.9 3878.5 L1072.2 3878.7 L1074.5 3878.8 L1076.9 3878.9 L1079.2 3879 L1081.6 3879 L1083.9 3879 L1086.2 3878.9 L1088.6 3878.8 L1090.9 3878.7 L1093.2 3878.6 L1095.6 3878.5 L1097.9 3878.4 L1100.3 3878.3 L1102.6 3878.3 L1104.9 3878.2 L1107.3 3878.3 L1109.6 3878.3 L1111.9 3878.4 L1114.3 3878.6 L1116.6 3878.8 L1118.9 3879.2 L1121.3 3879.6 L1123.6 3880.1 L1126 3880.6 L1128.3 3881.3 L1130.6 3882.2 L1133 3883.1 L1135.3 3884.2 L1137.6 3885.4 L1140 3886.7 L1142.3 3888.2 L1144.7 3889.9 L1147 3891.7 L1149.3 3893.7 L1151.7 3895.9 L1154 3898.3" stroke="#0000f8" stroke-width="4.2" stroke-linejoin="round"/>
<path d="M229.3 3843.6V3849.4M218.9 3843.6h20.8M218.9 3849.4h20.8M237 3787.3V3799M226.6 3787.3h20.8M226.6 3799h20.8M244.7 3729.7V3747.6M234.3 3729.7h20.8M234.3 3747.6h20.8M252.4 3671.3V3695.4M242 3671.3h20.8M242 3695.4h20.8M260.1 3612.4V3642.7M249.7 3612.4h20.8M249.7 3642.7h20.8M267.8 3553.4V3590M257.4 3553.4h20.8M257.4 3590h20.8M275.5 3494.7V3537.5M265.1 3494.7h20.8M265.1 3537.5h20.8M283.1 3436.7V3485.6M272.7 3436.7h20.8M272.7 3485.6h20.8M290.8 3379.7V3434.7M280.4 3379.7h20.8M280.4 3434.7h20.8M298.5 3324.1V3385M288.1 3324.1h20.8M288.1 3385h20.8M306.2 3270.3V3336.9M295.8 3270.3h20.8M295.8 3336.9h20.8M313.9 3218.7V3290.8M303.5 3218.7h20.8M303.5 3290.8h20.8M321.6 3169.6V3246.9M311.2 3169.6h20.8M311.2 3246.9h20.8M329.3 3125.7V3203M318.9 3125.7h20.8M318.9 3203h20.8M337 3084.9V3162.2M326.6 3084.9h20.8M326.6 3162.2h20.8M344.7 3047.4V3124.7M334.3 3047.4h20.8M334.3 3124.7h20.8M352.4 3013.7V3090.4M342 3013.7h20.8M342 3090.4h20.8M360.1 2984.1V3059.5M349.7 2984.1h20.8M349.7 3059.5h20.8M367.8 2958.9V3032.1M357.4 2958.9h20.8M357.4 3032.1h20.8M375.5 2938.2V3008.4M365.1 2938.2h20.8M365.1 3008.4h20.8M383.2 2921.9V2989M372.8 2921.9h20.8M372.8 2989h20.8M390.8 2910V2974.1M380.4 2910h20.8M380.4 2974.1h20.8M398.5 2902.9V2963.8M388.1 2902.9h20.8M388.1 2963.8h20.8M406.2 2900.6V2958.4M395.8 2900.6h20.8M395.8 2958.4h20.8M413.9 2903.1V2958.2M403.5 2903.1h20.8M403.5 2958.2h20.8M421.6 2910.4V2963M411.2 2910.4h20.8M411.2 2963h20.8M429.3 2922.4V2972.4M418.9 2922.4h20.8M418.9 2972.4h20.8M437 2938.8V2986.2M426.6 2938.8h20.8M426.6 2986.2h20.8M444.7 2959.3V3004.1M434.3 2959.3h20.8M434.3 3004.1h20.8M452.4 2983.7V3025.9M442 2983.7h20.8M442 3025.9h20.8M460.1 3012.1V3051M449.7 3012.1h20.8M449.7 3051h20.8M467.8 3042.4V3080.9M457.4 3042.4h20.8M457.4 3080.9h20.8M475.5 3075.1V3114.1M465.1 3075.1h20.8M465.1 3114.1h20.8M483.2 3110.1V3149.6M472.8 3110.1h20.8M472.8 3149.6h20.8M490.9 3146.9V3186.8M480.5 3146.9h20.8M480.5 3186.8h20.8M498.5 3184.8V3225.2M488.1 3184.8h20.8M488.1 3225.2h20.8M506.2 3223.3V3264.3M495.8 3223.3h20.8M495.8 3264.3h20.8M513.9 3262V3303.4M503.5 3262h20.8M503.5 3303.4h20.8M521.6 3300.7V3341.9M511.2 3300.7h20.8M511.2 3341.9h20.8M529.3 3338.8V3379.9M518.9 3338.8h20.8M518.9 3379.9h20.8M537 3376.2V3416.8M526.6 3376.2h20.8M526.6 3416.8h20.8M544.7 3412.6V3452.7M534.3 3412.6h20.8M534.3 3452.7h20.8M552.4 3447.5V3487.2M542 3447.5h20.8M542 3487.2h20.8M560.1 3480.6V3520.3M549.7 3480.6h20.8M549.7 3520.3h20.8M567.8 3511.8V3551.5M557.4 3511.8h20.8M557.4 3551.5h20.8M575.5 3540.9V3580.5M565.1 3540.9h20.8M565.1 3580.5h20.8M583.2 3567.5V3607.1M572.8 3567.5h20.8M572.8 3607.1h20.8M590.9 3591.5V3631M580.5 3591.5h20.8M580.5 3631h20.8M598.6 3613V3652.5M588.2 3613h20.8M588.2 3652.5h20.8M606.2 3632.2V3671.7M595.8 3632.2h20.8M595.8 3671.7h20.8M613.9 3649.4V3688.8M603.5 3649.4h20.8M603.5 3688.8h20.8M621.6 3664.6V3704M611.2 3664.6h20.8M611.2 3704h20.8M629.3 3678.2V3717.6M618.9 3678.2h20.8M618.9 3717.6h20.8M637 3690.2V3729.6M626.6 3690.2h20.8M626.6 3729.6h20.8M644.7 3701V3740.4M634.3 3701h20.8M634.3 3740.4h20.8M652.4 3710.7V3750M642 3710.7h20.8M642 3750h20.8M660.1 3719.4V3758.7M649.7 3719.4h20.8M649.7 3758.7h20.8M667.8 3727.2V3766.5M657.4 3727.2h20.8M657.4 3766.5h20.8M675.5 3734.3V3773.5M665.1 3734.3h20.8M665.1 3773.5h20.8M683.2 3740.5V3779.8M672.8 3740.5h20.8M672.8 3779.8h20.8M690.9 3746.1V3785.3M680.5 3746.1h20.8M680.5 3785.3h20.8M698.6 3751.1V3790.3M688.2 3751.1h20.8M688.2 3790.3h20.8M706.3 3755.6V3794.8M695.9 3755.6h20.8M695.9 3794.8h20.8M713.9 3759.6V3798.8M703.5 3759.6h20.8M703.5 3798.8h20.8M721.6 3763.3V3802.4M711.2 3763.3h20.8M711.2 3802.4h20.8M729.3 3766.7V3805.7M718.9 3766.7h20.8M718.9 3805.7h20.8M737 3769.8V3808.8M726.6 3769.8h20.8M726.6 3808.8h20.8M744.7 3772.8V3811.8M734.3 3772.8h20.8M734.3 3811.8h20.8M752.4 3775.7V3814.7M742 3775.7h20.8M742 3814.7h20.8M760.1 3778.6V3817.6M749.7 3778.6h20.8M749.7 3817.6h20.8M767.8 3781.6V3820.5M757.4 3781.6h20.8M757.4 3820.5h20.8M775.5 3784.7V3823.6M765.1 3784.7h20.8M765.1 3823.6h20.8M783.2 3788.1V3827M772.8 3788.1h20.8M772.8 3827h20.8M790.9 3791.6V3830.4M780.5 3791.6h20.8M780.5 3830.4h20.8M798.6 3795.2V3834M788.2 3795.2h20.8M788.2 3834h20.8M806.3 3799V3837.8M795.9 3799h20.8M795.9 3837.8h20.8M814 3802.8V3841.5M803.6 3802.8h20.8M803.6 3841.5h20.8M821.7 3806.6V3845.4M811.3 3806.6h20.8M811.3 3845.4h20.8M829.3 3810.5V3849.2M818.9 3810.5h20.8M818.9 3849.2h20.8M837 3814.3V3852.9M826.6 3814.3h20.8M826.6 3852.9h20.8M844.7 3818V3856.6M834.3 3818h20.8M834.3 3856.6h20.8M852.4 3821.6V3860.2M842 3821.6h20.8M842 3860.2h20.8M860.1 3825.1V3863.6M849.7 3825.1h20.8M849.7 3863.6h20.8M867.8 3828.4V3866.9M857.4 3828.4h20.8M857.4 3866.9h20.8M875.5 3831.5V3869.9M865.1 3831.5h20.8M865.1 3869.9h20.8M883.2 3834.3V3872.7M872.8 3834.3h20.8M872.8 3872.7h20.8M890.9 3836.9V3875.2M880.5 3836.9h20.8M880.5 3875.2h20.8M898.6 3839.1V3877.4M888.2 3839.1h20.8M888.2 3877.4h20.8M906.3 3840.9V3879.2M895.9 3840.9h20.8M895.9 3879.2h20.8M914 3842.5V3880.7M903.6 3842.5h20.8M903.6 3880.7h20.8M921.7 3843.6V3881.9M911.3 3843.6h20.8M911.3 3881.9h20.8M929.4 3844.5V3882.7M919 3844.5h20.8M919 3882.7h20.8M937 3845.1V3883.2M926.6 3845.1h20.8M926.6 3883.2h20.8M944.7 3845.4V3883.4M934.3 3845.4h20.8M934.3 3883.4h20.8M952.4 3845.4V3883.4M942 3845.4h20.8M942 3883.4h20.8M960.1 3845.2V3883M949.7 3845.2h20.8M949.7 3883h20.8M967.8 3844.8V3882.5M957.4 3844.8h20.8M957.4 3882.5h20.8M975.5 3844.4V3882M965.1 3844.4h20.8M965.1 3882h20.8M983.2 3843.9V3881.4M972.8 3843.9h20.8M972.8 3881.4h20.8M990.9 3843.7V3881.1M980.5 3843.7h20.8M980.5 3881.1h20.8M998.6 3843.8V3881M988.2 3843.8h20.8M988.2 3881h20.8M1006.3 3844.2V3881.4M995.9 3844.2h20.8M995.9 3881.4h20.8M1014 3845.3V3882.3M1003.6 3845.3h20.8M1003.6 3882.3h20.8M1021.7 3847V3883.9M1011.3 3847h20.8M1011.3 3883.9h20.8M1029.4 3849.5V3886.3M1019 3849.5h20.8M1019 3886.3h20.8M1037.1 3853V3889.2M1026.7 3853h20.8M1026.7 3889.2h20.8M1044.7 3856.9V3892.6M1034.3 3856.9h20.8M1034.3 3892.6h20.8M1052.4 3861V3896.2M1042 3861h20.8M1042 3896.2h20.8M1060.1 3865.2V3899.8M1049.7 3865.2h20.8M1049.7 3899.8h20.8M1067.8 3869.2V3903.3M1057.4 3869.2h20.8M1057.4 3903.3h20.8M1075.5 3873.6V3905.7M1065.1 3873.6h20.8M1065.1 3905.7h20.8M1083.2 3877.8V3907.2M1072.8 3877.8h20.8M1072.8 3907.2h20.8M1090.9 3881.1V3907.8M1080.5 3881.1h20.8M1080.5 3907.8h20.8M1098.6 3883.6V3907.7M1088.2 3883.6h20.8M1088.2 3907.7h20.8M1106.3 3886.8V3906.1M1095.9 3886.8h20.8M1095.9 3906.1h20.8M1114 3890.5V3903.9M1103.6 3890.5h20.8M1103.6 3903.9h20.8M1121.7 3898.3V3898.3M1111.3 3898.3h20.8M1111.3 3898.3h20.8" stroke="#00a0ff" stroke-width="1.7"/>
<path d="M221.6 3898.3 L223.9 3883.3 L226.1 3868.1 L228.4 3852.8 L230.6 3837.4 L232.9 3821.8 L235.1 3806.1 L237.4 3790.3 L239.6 3774.4 L241.9 3758.4 L244.2 3742.4 L246.4 3726.2 L248.7 3710 L250.9 3693.8 L253.2 3677.5 L255.4 3661.1 L257.7 3644.8 L259.9 3628.4 L262.2 3612 L264.5 3595.6 L266.7 3579.3 L269 3562.9 L271.2 3546.6 L273.5 3530.3 L275.7 3514 L278 3497.8 L280.3 3481.7 L282.5 3465.7 L284.8 3449.7 L287 3433.8 L289.3 3418 L291.5 3402.4 L293.8 3386.8 L296 3371.4 L298.3 3356.1 L300.6 3340.9 L302.8 3326 L305.1 3311.1 L307.3 3296.5 L309.6 3282 L311.8 3267.7 L314.1 3253.6 L316.3 3239.8 L318.6 3226.1 L320.9 3212.6 L323.1 3199.4 L325.4 3186.4 L327.6 3173.7 L329.9 3161.2 L332.1 3149 L334.4 3137 L336.6 3125.3 L338.9 3113.9 L341.2 3102.8 L343.4 3092 L345.7 3081.5 L347.9 3071.3 L350.2 3061.4 L352.4 3051.8 L354.7 3042.5 L356.9 3033.6 L359.2 3025 L361.5 3016.8 L363.7 3008.8 L366 3001.3 L368.2 2994.1 L370.5 2987.2 L372.7 2980.7 L375 2974.5 L377.3 2968.8 L379.5 2963.4 L381.8 2958.3 L384 2953.7 L386.3 2949.5 L388.5 2945.6 L390.8 2942.1 L393 2939.1 L395.3 2936.4 L397.6 2934.2 L399.8 2932.4 L402.1 2931 L404.3 2930 L406.6 2929.4 L408.8 2929.3 L411.1 2929.6 L413.3 2930.4 L415.6 2931.6 L417.9 2933.2 L420.1 2935.2 L422.4 2937.6 L424.6 2940.4 L426.9 2943.6 L429.1 2947.1 L431.4 2951.1 L433.6 2955.4 L435.9 2960.1 L438.2 2965.1 L440.4 2970.5 L442.7 2976.3 L444.9 2982.4 L447.2 2988.8 L449.4 2995.5 L451.7 3002.6 L454 3010 L456.2 3017.7 L458.5 3025.6 L460.7 3033.9 L463 3042.5 L465.2 3051.3 L467.5 3060.4 L469.7 3069.8 L472 3079.4 L474.3 3089.2 L476.5 3099.2 L478.8 3109.4 L481 3119.8 L483.3 3130.4 L485.5 3141.1 L487.8 3151.9 L490 3162.9 L492.3 3173.9 L494.6 3185.1 L496.8 3196.3 L499.1 3207.6 L501.3 3219 L503.6 3230.4 L505.8 3241.8 L508.1 3253.2 L510.3 3264.6 L512.6 3276 L514.9 3287.3 L517.1 3298.7 L519.4 3310 L521.6 3321.3 L523.9 3332.5 L526.1 3343.7 L528.4 3354.8 L530.6 3365.8 L532.9 3376.8 L535.2 3387.7 L537.4 3398.5 L539.7 3409.2 L541.9 3419.8 L544.2 3430.2 L546.4 3440.6 L548.7 3450.9 L551 3461 L553.2 3470.9 L555.5 3480.8 L557.7 3490.4 L560 3500 L562.2 3509.3 L564.5 3518.5 L566.7 3527.5 L569 3536.4 L571.3 3545 L573.5 3553.5 L575.8 3561.7 L578 3569.7 L580.3 3577.6 L582.5 3585.2 L584.8 3592.5 L587 3599.7 L589.3 3606.6 L591.6 3613.3 L593.8 3619.8 L596.1 3626.1 L598.3 3632.1 L600.6 3638 L602.8 3643.7 L605.1 3649.2 L607.3 3654.5 L609.6 3659.7 L611.9 3664.7 L614.1 3669.5 L616.4 3674.1 L618.6 3678.6 L620.9 3682.9 L623.1 3687.1 L625.4 3691.1 L627.6 3695 L629.9 3698.8 L632.2 3702.5 L634.4 3706 L636.7 3709.4 L638.9 3712.7 L641.2 3715.9 L643.4 3719 L645.7 3722 L648 3724.9 L650.2 3727.7 L652.5 3730.4 L654.7 3733.1 L657 3735.7 L659.2 3738.1 L661.5 3740.6 L663.7 3742.9 L666 3745.1 L668.3 3747.3 L670.5 3749.5 L672.8 3751.5 L675 3753.5 L677.3 3755.4 L679.5 3757.3 L681.8 3759.1 L684 3760.8 L686.3 3762.5 L688.6 3764.1 L690.8 3765.7 L693.1 3767.2 L695.3 3768.7 L697.6 3770.1 L699.8 3771.5 L702.1 3772.8 L704.3 3774.1 L706.6 3775.4 L708.9 3776.6 L711.1 3777.8 L713.4 3778.9 L715.6 3780 L717.9 3781.1 L720.1 3782.2 L722.4 3783.2 L724.7 3784.2 L726.9 3785.2 L729.2 3786.1 L731.4 3787.1 L733.7 3788 L735.9 3788.9 L738.2 3789.8 L740.4 3790.7 L742.7 3791.5 L745 3792.4 L747.2 3793.2 L749.5 3794.1 L751.7 3794.9 L754 3795.8 L756.2 3796.6 L758.5 3797.5 L760.7 3798.3 L763 3799.2 L765.3 3800.1 L767.5 3801 L769.8 3801.9 L772 3802.8 L774.3 3803.7 L776.5 3804.6 L778.8 3805.6 L781 3806.6 L783.3 3807.6 L785.6 3808.6 L787.8 3809.6 L790.1 3810.6 L792.3 3811.7 L794.6 3812.7 L796.8 3813.8 L799.1 3814.9 L801.3 3816 L803.6 3817.1 L805.9 3818.2 L808.1 3819.3 L810.4 3820.4 L812.6 3821.5 L814.9 3822.6 L817.1 3823.7 L819.4 3824.9 L821.7 3826 L823.9 3827.1 L826.2 3828.2 L828.4 3829.4 L830.7 3830.5 L832.9 3831.6 L835.2 3832.7 L837.4 3833.8 L839.7 3834.9 L842 3836 L844.2 3837.1 L846.5 3838.1 L848.7 3839.2 L851 3840.3 L853.2 3841.3 L855.5 3842.3 L857.7 3843.3 L860 3844.3 L862.3 3845.3 L864.5 3846.3 L866.8 3847.2 L869 3848.2 L871.3 3849.1 L873.5 3850 L875.8 3850.8 L878 3851.7 L880.3 3852.5 L882.6 3853.3 L884.8 3854.1 L887.1 3854.8 L889.3 3855.6 L891.6 3856.3 L893.8 3856.9 L896.1 3857.6 L898.3 3858.2 L900.6 3858.8 L902.9 3859.3 L905.1 3859.8 L907.4 3860.3 L909.6 3860.8 L911.9 3861.2 L914.1 3861.6 L916.4 3862 L918.7 3862.3 L920.9 3862.7 L923.2 3862.9 L925.4 3863.2 L927.7 3863.4 L929.9 3863.6 L932.2 3863.8 L934.4 3864 L936.7 3864.1 L939 3864.2 L941.2 3864.3 L943.5 3864.4 L945.7 3864.4 L948 3864.4 L950.2 3864.4 L952.5 3864.4 L954.7 3864.3 L957 3864.3 L959.3 3864.2 L961.5 3864.1 L963.8 3863.9 L966 3863.8 L968.3 3863.7 L970.5 3863.5 L972.8 3863.3 L975 3863.2 L977.3 3863 L979.6 3862.9 L981.8 3862.8 L984.1 3862.6 L986.3 3862.5 L988.6 3862.4 L990.8 3862.4 L993.1 3862.3 L995.4 3862.3 L997.6 3862.4 L999.9 3862.4 L1002.1 3862.5 L1004.4 3862.7 L1006.6 3862.8 L1008.9 3863.1 L1011.1 3863.4 L1013.4 3863.7 L1015.7 3864.1 L1017.9 3864.6 L1020.2 3865.1 L1022.4 3865.7 L1024.7 3866.4 L1026.9 3867.1 L1029.2 3867.9 L1031.4 3868.7 L1033.7 3869.7 L1036 3870.6 L1038.2 3871.6 L1040.5 3872.7 L1042.7 3873.7 L1045 3874.8 L1047.2 3875.9 L1049.5 3877.1 L1051.7 3878.2 L1054 3879.4 L1056.3 3880.5 L1058.5 3881.7 L1060.8 3882.8 L1063 3884 L1065.3 3885.1 L1067.5 3886.1 L1069.8 3887.2 L1072 3888.2 L1074.3 3889.2 L1076.6 3890.1 L1078.8 3890.9 L1081.1 3891.7 L1083.3 3892.5 L1085.6 3893.2 L1087.8 3893.8 L1090.1 3894.3 L1092.4 3894.7 L1094.6 3895.1 L1096.9 3895.5 L1099.1 3895.7 L1101.4 3896 L1103.6 3896.2 L1105.9 3896.4 L1108.1 3896.6 L1110.4 3896.8 L1112.7 3897 L1114.9 3897.3 L1117.2 3897.6 L1119.4 3897.9 L1121.7 3898.3" stroke="#00a0ff" stroke-width="4.2" stroke-linejoin="round"/>
</g>
<text class="tk" transform="translate(187 3915) scale(1 1.07)" text-anchor="end">0</text>
<text class="tk" transform="translate(187 3721.3) scale(1 1.07)" text-anchor="end">20</text>
<text class="tk" transform="translate(187 3527.7) scale(1 1.07)" text-anchor="end">40</text>
<text class="tk" transform="translate(187 3334) scale(1 1.07)" text-anchor="end">60</text>
<text class="tk" transform="translate(187 3140.4) scale(1 1.07)" text-anchor="end">80</text>
<text class="tk" transform="translate(187 2946.7) scale(1 1.07)" text-anchor="end">100</text>
<text class="tk" transform="translate(221.6 3974.8) scale(1 1.07)" text-anchor="middle">0</text>
<text class="tk" transform="translate(377 3974.8) scale(1 1.07)" text-anchor="middle">5</text>
<text class="tk" transform="translate(532.4 3974.8) scale(1 1.07)" text-anchor="middle">10</text>
<text class="tk" transform="translate(687.8 3974.8) scale(1 1.07)" text-anchor="middle">15</text>
<text class="tk" transform="translate(843.2 3974.8) scale(1 1.07)" text-anchor="middle">20</text>
<text class="tk" transform="translate(998.6 3974.8) scale(1 1.07)" text-anchor="middle">25</text>
<text class="tk" transform="translate(1154 3974.8) scale(1 1.07)" text-anchor="middle">30</text>
<text class="tk" transform="translate(1309.4 3974.8) scale(1 1.07)" text-anchor="middle">35</text>
<text class="ti" font-size="63" x="542" y="4052.3" textLength="488.5" lengthAdjust="spacingAndGlyphs">Particle sizes (nm)</text>
<text class="ti" font-size="64" transform="translate(88.1 3773) rotate(-90)" textLength="710.5" lengthAdjust="spacingAndGlyphs">Volume distribution (a.u.)</text>
<path d="M750.6 3556.5H891.3" stroke="#0000f8" stroke-width="4.4" stroke-linecap="round" fill="none"/>
<text class="lg" x="907.6" y="3577.1">CeMnO<tspan font-size="29" dy="19.5">x</tspan><tspan dy="-19.5">/SBA-15 (1:4)</tspan></text>
<path d="M750.6 3651.1H891.3" stroke="#00a0ff" stroke-width="4.4" stroke-linecap="round" fill="none"/>
<text class="lg" x="907.6" y="3672">Ni/CeMnO<tspan font-size="29" dy="19.5">x</tspan><tspan dy="-19.5">/SBA-15 (1:4)</tspan></text>
<text class="lg" x="1371.5" y="2925.4">(c)</text>
</g>
</svg>
</body></html>
